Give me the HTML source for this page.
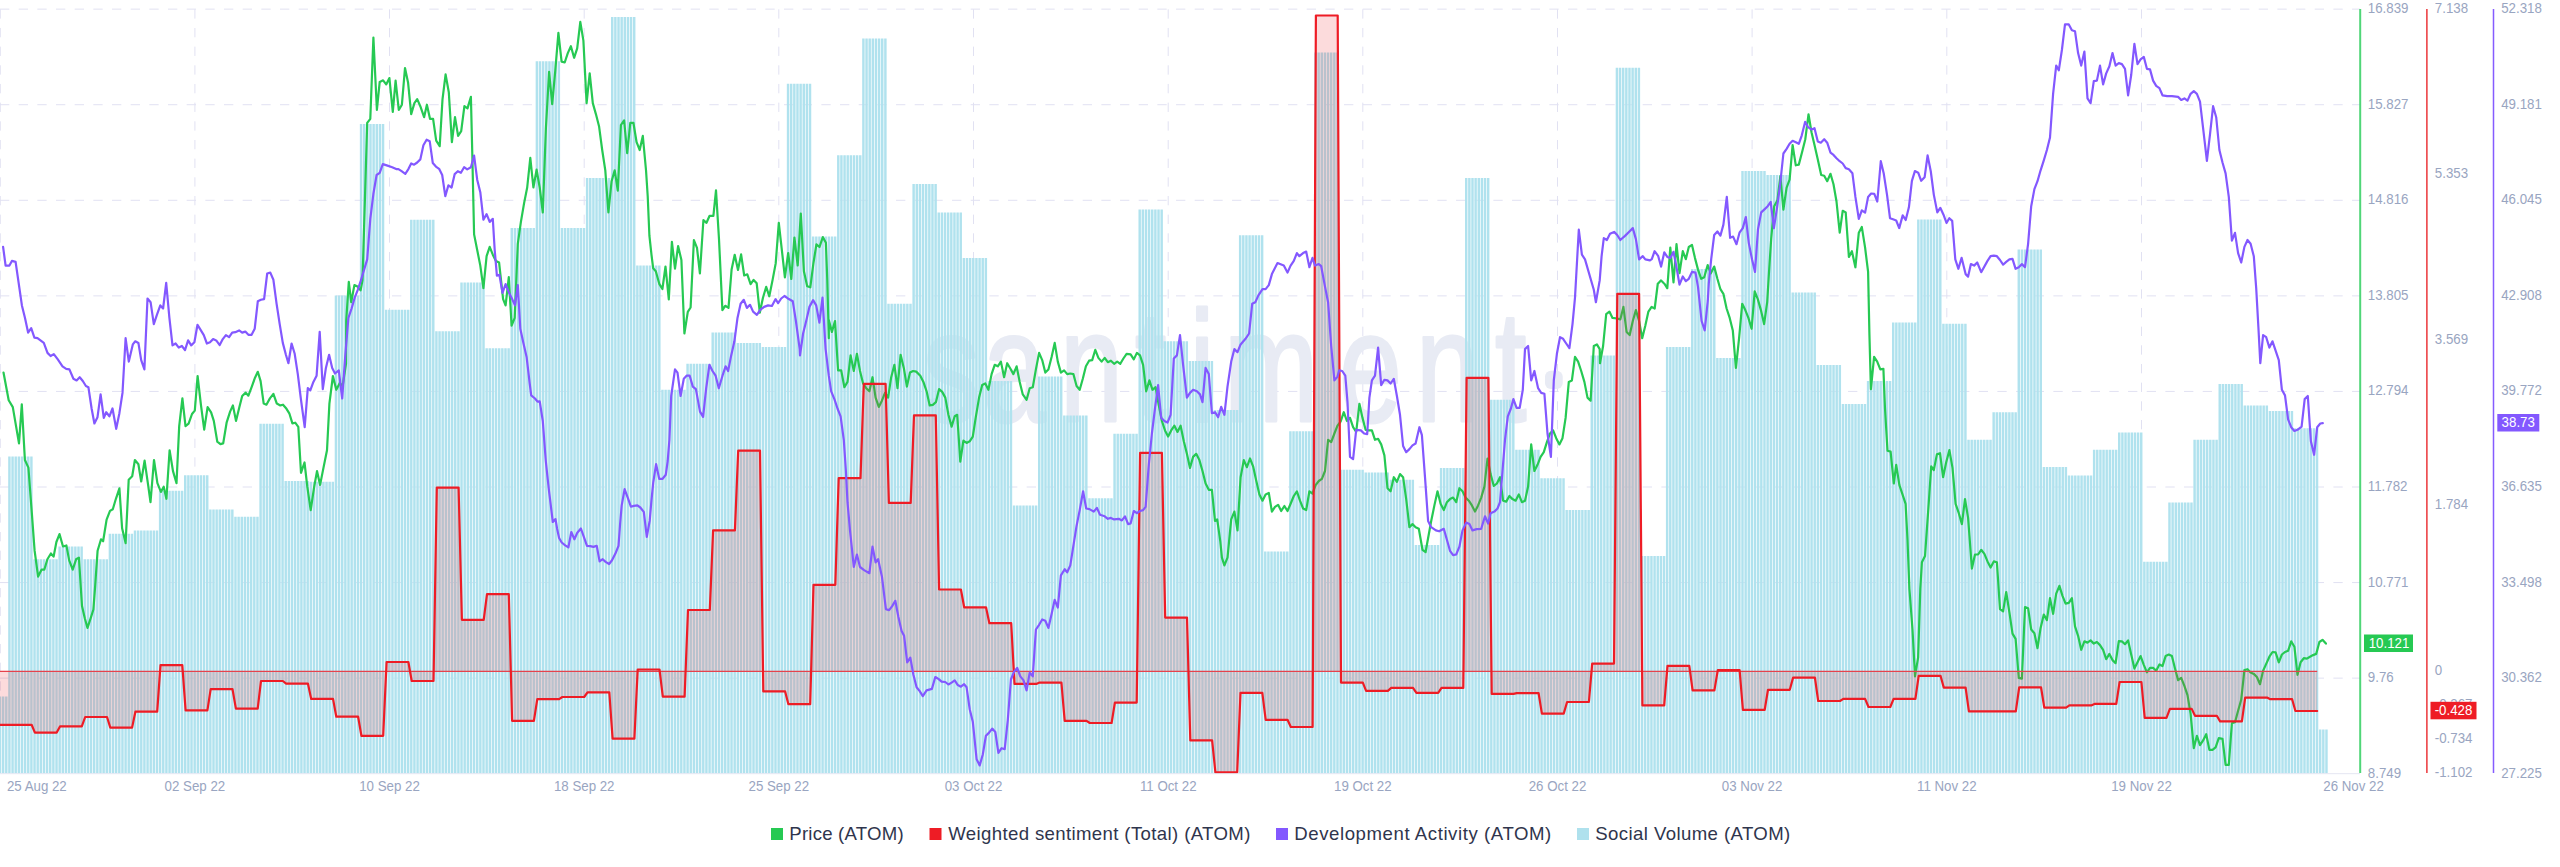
<!DOCTYPE html><html><head><meta charset="utf-8"><title>chart</title><style>html,body{margin:0;padding:0;background:#fff}body{width:2560px;height:867px;position:relative;overflow:hidden}</style></head><body><svg width="2560" height="867" viewBox="0 0 2560 867" style="position:absolute;left:0;top:0">
<defs><clipPath id="cp"><rect x="0" y="9" width="2360" height="764.2"/></clipPath></defs>
<g stroke="#e1e1f2" stroke-width="1" stroke-dasharray="9.3335 9.3335" fill="none"><line x1="0" x2="2360" y1="9.15" y2="9.15"/><line x1="0" x2="2360" y1="104.72" y2="104.72"/><line x1="0" x2="2360" y1="200.29" y2="200.29"/><line x1="0" x2="2360" y1="295.86" y2="295.86"/><line x1="0" x2="2360" y1="391.43" y2="391.43"/><line x1="0" x2="2360" y1="487.00" y2="487.00"/><line x1="0" x2="2360" y1="582.57" y2="582.57"/><line x1="0" x2="2360" y1="678.14" y2="678.14"/><line x1="0.3" x2="0.3" y1="9.3" y2="773"/><line x1="194.9" x2="194.9" y1="9.3" y2="773"/><line x1="389.5" x2="389.5" y1="9.3" y2="773"/><line x1="584.2" x2="584.2" y1="9.3" y2="773"/><line x1="778.8" x2="778.8" y1="9.3" y2="773"/><line x1="973.5" x2="973.5" y1="9.3" y2="773"/><line x1="1168.2" x2="1168.2" y1="9.3" y2="773"/><line x1="1362.8" x2="1362.8" y1="9.3" y2="773"/><line x1="1557.5" x2="1557.5" y1="9.3" y2="773"/><line x1="1752.1" x2="1752.1" y1="9.3" y2="773"/><line x1="1946.8" x2="1946.8" y1="9.3" y2="773"/><line x1="2141.5" x2="2141.5" y1="9.3" y2="773"/></g>
<g font-family="Liberation Sans, sans-serif" fill="#e8ebf4" stroke="#e8ebf4" stroke-linejoin="round"><text transform="scale(0.72,1)" x="1281.9 1365.3 1472.2 1576.4 1652.1 1700.0 1859.7 1966.7 2076.4" y="421.5" font-size="157" stroke-width="3">santiment</text><text x="1545.6" y="383.3" font-size="60" stroke-width="12">.</text></g>
<path d="M8.20 773.2H10.65V456.6H8.20ZM11.34 773.2H13.79V456.6H11.34ZM14.48 773.2H16.93V456.6H14.48ZM17.62 773.2H20.07V456.6H17.62ZM20.76 773.2H23.21V456.6H20.76ZM23.90 773.2H26.35V456.6H23.90ZM27.04 773.2H29.49V456.6H27.04ZM30.18 773.2H32.63V456.6H30.18ZM33.32 773.2H35.77V559.3H33.32ZM36.46 773.2H38.91V559.3H36.46ZM39.60 773.2H42.05V559.3H39.60ZM42.74 773.2H45.19V559.3H42.74ZM45.88 773.2H48.33V559.3H45.88ZM49.02 773.2H51.47V559.3H49.02ZM52.15 773.2H54.60V559.3H52.15ZM55.29 773.2H57.74V559.3H55.29ZM58.43 773.2H60.88V546.5H58.43ZM61.57 773.2H64.02V546.5H61.57ZM64.71 773.2H67.16V546.5H64.71ZM67.85 773.2H70.30V546.5H67.85ZM70.99 773.2H73.44V546.5H70.99ZM74.13 773.2H76.58V546.5H74.13ZM77.27 773.2H79.72V546.5H77.27ZM80.41 773.2H82.86V546.5H80.41ZM83.55 773.2H86.00V559.3H83.55ZM86.69 773.2H89.14V559.3H86.69ZM89.83 773.2H92.28V559.3H89.83ZM92.97 773.2H95.42V559.3H92.97ZM96.11 773.2H98.56V559.3H96.11ZM99.25 773.2H101.70V559.3H99.25ZM102.39 773.2H104.84V559.3H102.39ZM105.53 773.2H107.98V559.3H105.53ZM108.67 773.2H111.12V533.7H108.67ZM111.81 773.2H114.26V533.7H111.81ZM114.95 773.2H117.40V533.7H114.95ZM118.09 773.2H120.54V533.7H118.09ZM121.23 773.2H123.68V533.7H121.23ZM124.37 773.2H126.82V533.7H124.37ZM127.51 773.2H129.96V533.7H127.51ZM130.65 773.2H133.10V533.7H130.65ZM133.78 773.2H136.23V530.6H133.78ZM136.92 773.2H139.37V530.6H136.92ZM140.06 773.2H142.51V530.6H140.06ZM143.20 773.2H145.65V530.6H143.20ZM146.34 773.2H148.79V530.6H146.34ZM149.48 773.2H151.93V530.6H149.48ZM152.62 773.2H155.07V530.6H152.62ZM155.76 773.2H158.21V530.6H155.76ZM158.90 773.2H161.35V490.8H158.90ZM162.04 773.2H164.49V490.8H162.04ZM165.18 773.2H167.63V490.8H165.18ZM168.32 773.2H170.77V490.8H168.32ZM171.46 773.2H173.91V490.8H171.46ZM174.60 773.2H177.05V490.8H174.60ZM177.74 773.2H180.19V490.8H177.74ZM180.88 773.2H183.33V490.8H180.88ZM184.02 773.2H186.47V475.3H184.02ZM187.16 773.2H189.61V475.3H187.16ZM190.30 773.2H192.75V475.3H190.30ZM193.44 773.2H195.89V475.3H193.44ZM196.58 773.2H199.03V475.3H196.58ZM199.72 773.2H202.17V475.3H199.72ZM202.86 773.2H205.31V475.3H202.86ZM206.00 773.2H208.45V475.3H206.00ZM209.14 773.2H211.59V509.5H209.14ZM212.28 773.2H214.73V509.5H212.28ZM215.42 773.2H217.87V509.5H215.42ZM218.55 773.2H221.00V509.5H218.55ZM221.69 773.2H224.14V509.5H221.69ZM224.83 773.2H227.28V509.5H224.83ZM227.97 773.2H230.42V509.5H227.97ZM231.11 773.2H233.56V509.5H231.11ZM234.25 773.2H236.70V516.8H234.25ZM237.39 773.2H239.84V516.8H237.39ZM240.53 773.2H242.98V516.8H240.53ZM243.67 773.2H246.12V516.8H243.67ZM246.81 773.2H249.26V516.8H246.81ZM249.95 773.2H252.40V516.8H249.95ZM253.09 773.2H255.54V516.8H253.09ZM256.23 773.2H258.68V516.8H256.23ZM259.37 773.2H261.82V423.7H259.37ZM262.51 773.2H264.96V423.7H262.51ZM265.65 773.2H268.10V423.7H265.65ZM268.79 773.2H271.24V423.7H268.79ZM271.93 773.2H274.38V423.7H271.93ZM275.07 773.2H277.52V423.7H275.07ZM278.21 773.2H280.66V423.7H278.21ZM281.35 773.2H283.80V423.7H281.35ZM284.49 773.2H286.94V481.1H284.49ZM287.63 773.2H290.08V481.1H287.63ZM290.77 773.2H293.22V481.1H290.77ZM293.91 773.2H296.36V481.1H293.91ZM297.05 773.2H299.50V481.1H297.05ZM300.19 773.2H302.64V481.1H300.19ZM303.32 773.2H305.77V481.1H303.32ZM306.46 773.2H308.91V481.1H306.46ZM309.60 773.2H312.05V481.8H309.60ZM312.74 773.2H315.19V481.8H312.74ZM315.88 773.2H318.33V481.8H315.88ZM319.02 773.2H321.47V481.8H319.02ZM322.16 773.2H324.61V481.8H322.16ZM325.30 773.2H327.75V481.8H325.30ZM328.44 773.2H330.89V481.8H328.44ZM331.58 773.2H334.03V481.8H331.58ZM334.72 773.2H337.17V295.4H334.72ZM337.86 773.2H340.31V295.4H337.86ZM341.00 773.2H343.45V295.4H341.00ZM344.14 773.2H346.59V295.4H344.14ZM347.28 773.2H349.73V295.4H347.28ZM350.42 773.2H352.87V295.4H350.42ZM353.56 773.2H356.01V295.4H353.56ZM356.70 773.2H359.15V295.4H356.70ZM359.84 773.2H362.29V124.0H359.84ZM362.98 773.2H365.43V124.0H362.98ZM366.12 773.2H368.57V124.0H366.12ZM369.26 773.2H371.71V124.0H369.26ZM372.40 773.2H374.85V124.0H372.40ZM375.54 773.2H377.99V124.0H375.54ZM378.68 773.2H381.13V124.0H378.68ZM381.82 773.2H384.27V124.0H381.82ZM384.95 773.2H387.40V309.8H384.95ZM388.09 773.2H390.54V309.8H388.09ZM391.23 773.2H393.68V309.8H391.23ZM394.37 773.2H396.82V309.8H394.37ZM397.51 773.2H399.96V309.8H397.51ZM400.65 773.2H403.10V309.8H400.65ZM403.79 773.2H406.24V309.8H403.79ZM406.93 773.2H409.38V309.8H406.93ZM410.07 773.2H412.52V219.7H410.07ZM413.21 773.2H415.66V219.7H413.21ZM416.35 773.2H418.80V219.7H416.35ZM419.49 773.2H421.94V219.7H419.49ZM422.63 773.2H425.08V219.7H422.63ZM425.77 773.2H428.22V219.7H425.77ZM428.91 773.2H431.36V219.7H428.91ZM432.05 773.2H434.50V219.7H432.05ZM435.19 773.2H437.64V331.3H435.19ZM438.33 773.2H440.78V331.3H438.33ZM441.47 773.2H443.92V331.3H441.47ZM444.61 773.2H447.06V331.3H444.61ZM447.75 773.2H450.20V331.3H447.75ZM450.89 773.2H453.34V331.3H450.89ZM454.03 773.2H456.48V331.3H454.03ZM457.17 773.2H459.62V331.3H457.17ZM460.31 773.2H462.76V282.6H460.31ZM463.45 773.2H465.90V282.6H463.45ZM466.59 773.2H469.04V282.6H466.59ZM469.72 773.2H472.17V282.6H469.72ZM472.86 773.2H475.31V282.6H472.86ZM476.00 773.2H478.45V282.6H476.00ZM479.14 773.2H481.59V282.6H479.14ZM482.28 773.2H484.73V282.6H482.28ZM485.42 773.2H487.87V348.2H485.42ZM488.56 773.2H491.01V348.2H488.56ZM491.70 773.2H494.15V348.2H491.70ZM494.84 773.2H497.29V348.2H494.84ZM497.98 773.2H500.43V348.2H497.98ZM501.12 773.2H503.57V348.2H501.12ZM504.26 773.2H506.71V348.2H504.26ZM507.40 773.2H509.85V348.2H507.40ZM510.54 773.2H512.99V228.0H510.54ZM513.68 773.2H516.13V228.0H513.68ZM516.82 773.2H519.27V228.0H516.82ZM519.96 773.2H522.41V228.0H519.96ZM523.10 773.2H525.55V228.0H523.10ZM526.24 773.2H528.69V228.0H526.24ZM529.38 773.2H531.83V228.0H529.38ZM532.52 773.2H534.97V228.0H532.52ZM535.66 773.2H538.11V61.3H535.66ZM538.80 773.2H541.25V61.3H538.80ZM541.94 773.2H544.39V61.3H541.94ZM545.08 773.2H547.53V61.3H545.08ZM548.22 773.2H550.67V61.3H548.22ZM551.36 773.2H553.81V61.3H551.36ZM554.49 773.2H556.94V61.3H554.49ZM557.63 773.2H560.08V61.3H557.63ZM560.77 773.2H563.22V228.0H560.77ZM563.91 773.2H566.36V228.0H563.91ZM567.05 773.2H569.50V228.0H567.05ZM570.19 773.2H572.64V228.0H570.19ZM573.33 773.2H575.78V228.0H573.33ZM576.47 773.2H578.92V228.0H576.47ZM579.61 773.2H582.06V228.0H579.61ZM582.75 773.2H585.20V228.0H582.75ZM585.89 773.2H588.34V178.0H585.89ZM589.03 773.2H591.48V178.0H589.03ZM592.17 773.2H594.62V178.0H592.17ZM595.31 773.2H597.76V178.0H595.31ZM598.45 773.2H600.90V178.0H598.45ZM601.59 773.2H604.04V178.0H601.59ZM604.73 773.2H607.18V178.0H604.73ZM607.87 773.2H610.32V178.0H607.87ZM611.01 773.2H613.46V17.0H611.01ZM614.15 773.2H616.60V17.0H614.15ZM617.29 773.2H619.74V17.0H617.29ZM620.43 773.2H622.88V17.0H620.43ZM623.57 773.2H626.02V17.0H623.57ZM626.71 773.2H629.16V17.0H626.71ZM629.85 773.2H632.30V17.0H629.85ZM632.99 773.2H635.44V17.0H632.99ZM636.13 773.2H638.58V265.6H636.13ZM639.26 773.2H641.71V265.6H639.26ZM642.40 773.2H644.85V265.6H642.40ZM645.54 773.2H647.99V265.6H645.54ZM648.68 773.2H651.13V265.6H648.68ZM651.82 773.2H654.27V265.6H651.82ZM654.96 773.2H657.41V265.6H654.96ZM658.10 773.2H660.55V265.6H658.10ZM661.24 773.2H663.69V389.8H661.24ZM664.38 773.2H666.83V389.8H664.38ZM667.52 773.2H669.97V389.8H667.52ZM670.66 773.2H673.11V389.8H670.66ZM673.80 773.2H676.25V389.8H673.80ZM676.94 773.2H679.39V389.8H676.94ZM680.08 773.2H682.53V389.8H680.08ZM683.22 773.2H685.67V389.8H683.22ZM686.36 773.2H688.81V363.8H686.36ZM689.50 773.2H691.95V363.8H689.50ZM692.64 773.2H695.09V363.8H692.64ZM695.78 773.2H698.23V363.8H695.78ZM698.92 773.2H701.37V363.8H698.92ZM702.06 773.2H704.51V363.8H702.06ZM705.20 773.2H707.65V363.8H705.20ZM708.34 773.2H710.79V363.8H708.34ZM711.48 773.2H713.93V332.6H711.48ZM714.62 773.2H717.07V332.6H714.62ZM717.76 773.2H720.21V332.6H717.76ZM720.89 773.2H723.34V332.6H720.89ZM724.03 773.2H726.48V332.6H724.03ZM727.17 773.2H729.62V332.6H727.17ZM730.31 773.2H732.76V332.6H730.31ZM733.45 773.2H735.90V332.6H733.45ZM736.59 773.2H739.04V342.9H736.59ZM739.73 773.2H742.18V342.9H739.73ZM742.87 773.2H745.32V342.9H742.87ZM746.01 773.2H748.46V342.9H746.01ZM749.15 773.2H751.60V342.9H749.15ZM752.29 773.2H754.74V342.9H752.29ZM755.43 773.2H757.88V342.9H755.43ZM758.57 773.2H761.02V342.9H758.57ZM761.71 773.2H764.16V347.0H761.71ZM764.85 773.2H767.30V347.0H764.85ZM767.99 773.2H770.44V347.0H767.99ZM771.13 773.2H773.58V347.0H771.13ZM774.27 773.2H776.72V347.0H774.27ZM777.41 773.2H779.86V347.0H777.41ZM780.55 773.2H783.00V347.0H780.55ZM783.69 773.2H786.14V347.0H783.69ZM786.83 773.2H789.28V83.8H786.83ZM789.97 773.2H792.42V83.8H789.97ZM793.11 773.2H795.56V83.8H793.11ZM796.25 773.2H798.70V83.8H796.25ZM799.39 773.2H801.84V83.8H799.39ZM802.53 773.2H804.98V83.8H802.53ZM805.66 773.2H808.11V83.8H805.66ZM808.80 773.2H811.25V83.8H808.80ZM811.94 773.2H814.39V236.6H811.94ZM815.08 773.2H817.53V236.6H815.08ZM818.22 773.2H820.67V236.6H818.22ZM821.36 773.2H823.81V236.6H821.36ZM824.50 773.2H826.95V236.6H824.50ZM827.64 773.2H830.09V236.6H827.64ZM830.78 773.2H833.23V236.6H830.78ZM833.92 773.2H836.37V236.6H833.92ZM837.06 773.2H839.51V155.3H837.06ZM840.20 773.2H842.65V155.3H840.20ZM843.34 773.2H845.79V155.3H843.34ZM846.48 773.2H848.93V155.3H846.48ZM849.62 773.2H852.07V155.3H849.62ZM852.76 773.2H855.21V155.3H852.76ZM855.90 773.2H858.35V155.3H855.90ZM859.04 773.2H861.49V155.3H859.04ZM862.18 773.2H864.63V38.4H862.18ZM865.32 773.2H867.77V38.4H865.32ZM868.46 773.2H870.91V38.4H868.46ZM871.60 773.2H874.05V38.4H871.60ZM874.74 773.2H877.19V38.4H874.74ZM877.88 773.2H880.33V38.4H877.88ZM881.02 773.2H883.47V38.4H881.02ZM884.16 773.2H886.61V38.4H884.16ZM887.30 773.2H889.75V303.8H887.30ZM890.43 773.2H892.88V303.8H890.43ZM893.57 773.2H896.02V303.8H893.57ZM896.71 773.2H899.16V303.8H896.71ZM899.85 773.2H902.30V303.8H899.85ZM902.99 773.2H905.44V303.8H902.99ZM906.13 773.2H908.58V303.8H906.13ZM909.27 773.2H911.72V303.8H909.27ZM912.41 773.2H914.86V184.0H912.41ZM915.55 773.2H918.00V184.0H915.55ZM918.69 773.2H921.14V184.0H918.69ZM921.83 773.2H924.28V184.0H921.83ZM924.97 773.2H927.42V184.0H924.97ZM928.11 773.2H930.56V184.0H928.11ZM931.25 773.2H933.70V184.0H931.25ZM934.39 773.2H936.84V184.0H934.39ZM937.53 773.2H939.98V212.5H937.53ZM940.67 773.2H943.12V212.5H940.67ZM943.81 773.2H946.26V212.5H943.81ZM946.95 773.2H949.40V212.5H946.95ZM950.09 773.2H952.54V212.5H950.09ZM953.23 773.2H955.68V212.5H953.23ZM956.37 773.2H958.82V212.5H956.37ZM959.51 773.2H961.96V212.5H959.51ZM962.65 773.2H965.10V258.0H962.65ZM965.79 773.2H968.24V258.0H965.79ZM968.93 773.2H971.38V258.0H968.93ZM972.06 773.2H974.51V258.0H972.06ZM975.20 773.2H977.65V258.0H975.20ZM978.34 773.2H980.79V258.0H978.34ZM981.48 773.2H983.93V258.0H981.48ZM984.62 773.2H987.07V258.0H984.62ZM987.76 773.2H990.21V381.0H987.76ZM990.90 773.2H993.35V381.0H990.90ZM994.04 773.2H996.49V381.0H994.04ZM997.18 773.2H999.63V381.0H997.18ZM1000.32 773.2H1002.77V381.0H1000.32ZM1003.46 773.2H1005.91V381.0H1003.46ZM1006.60 773.2H1009.05V381.0H1006.60ZM1009.74 773.2H1012.19V381.0H1009.74ZM1012.88 773.2H1015.33V505.4H1012.88ZM1016.02 773.2H1018.47V505.4H1016.02ZM1019.16 773.2H1021.61V505.4H1019.16ZM1022.30 773.2H1024.75V505.4H1022.30ZM1025.44 773.2H1027.89V505.4H1025.44ZM1028.58 773.2H1031.03V505.4H1028.58ZM1031.72 773.2H1034.17V505.4H1031.72ZM1034.86 773.2H1037.31V505.4H1034.86ZM1038.00 773.2H1040.45V376.6H1038.00ZM1041.14 773.2H1043.59V376.6H1041.14ZM1044.28 773.2H1046.73V376.6H1044.28ZM1047.42 773.2H1049.87V376.6H1047.42ZM1050.56 773.2H1053.01V376.6H1050.56ZM1053.70 773.2H1056.15V376.6H1053.70ZM1056.83 773.2H1059.28V376.6H1056.83ZM1059.97 773.2H1062.42V376.6H1059.97ZM1063.11 773.2H1065.56V415.4H1063.11ZM1066.25 773.2H1068.70V415.4H1066.25ZM1069.39 773.2H1071.84V415.4H1069.39ZM1072.53 773.2H1074.98V415.4H1072.53ZM1075.67 773.2H1078.12V415.4H1075.67ZM1078.81 773.2H1081.26V415.4H1078.81ZM1081.95 773.2H1084.40V415.4H1081.95ZM1085.09 773.2H1087.54V415.4H1085.09ZM1088.23 773.2H1090.68V498.2H1088.23ZM1091.37 773.2H1093.82V498.2H1091.37ZM1094.51 773.2H1096.96V498.2H1094.51ZM1097.65 773.2H1100.10V498.2H1097.65ZM1100.79 773.2H1103.24V498.2H1100.79ZM1103.93 773.2H1106.38V498.2H1103.93ZM1107.07 773.2H1109.52V498.2H1107.07ZM1110.21 773.2H1112.66V498.2H1110.21ZM1113.35 773.2H1115.80V433.8H1113.35ZM1116.49 773.2H1118.94V433.8H1116.49ZM1119.63 773.2H1122.08V433.8H1119.63ZM1122.77 773.2H1125.22V433.8H1122.77ZM1125.91 773.2H1128.36V433.8H1125.91ZM1129.05 773.2H1131.50V433.8H1129.05ZM1132.19 773.2H1134.64V433.8H1132.19ZM1135.33 773.2H1137.78V433.8H1135.33ZM1138.47 773.2H1140.92V209.5H1138.47ZM1141.60 773.2H1144.05V209.5H1141.60ZM1144.74 773.2H1147.19V209.5H1144.74ZM1147.88 773.2H1150.33V209.5H1147.88ZM1151.02 773.2H1153.47V209.5H1151.02ZM1154.16 773.2H1156.61V209.5H1154.16ZM1157.30 773.2H1159.75V209.5H1157.30ZM1160.44 773.2H1162.89V209.5H1160.44ZM1163.58 773.2H1166.03V341.3H1163.58ZM1166.72 773.2H1169.17V341.3H1166.72ZM1169.86 773.2H1172.31V341.3H1169.86ZM1173.00 773.2H1175.45V341.3H1173.00ZM1176.14 773.2H1178.59V341.3H1176.14ZM1179.28 773.2H1181.73V341.3H1179.28ZM1182.42 773.2H1184.87V341.3H1182.42ZM1185.56 773.2H1188.01V341.3H1185.56ZM1188.70 773.2H1191.15V361.0H1188.70ZM1191.84 773.2H1194.29V361.0H1191.84ZM1194.98 773.2H1197.43V361.0H1194.98ZM1198.12 773.2H1200.57V361.0H1198.12ZM1201.26 773.2H1203.71V361.0H1201.26ZM1204.40 773.2H1206.85V361.0H1204.40ZM1207.54 773.2H1209.99V361.0H1207.54ZM1210.68 773.2H1213.13V361.0H1210.68ZM1213.82 773.2H1216.27V410.0H1213.82ZM1216.96 773.2H1219.41V410.0H1216.96ZM1220.10 773.2H1222.55V410.0H1220.10ZM1223.23 773.2H1225.68V410.0H1223.23ZM1226.37 773.2H1228.82V410.0H1226.37ZM1229.51 773.2H1231.96V410.0H1229.51ZM1232.65 773.2H1235.10V410.0H1232.65ZM1235.79 773.2H1238.24V410.0H1235.79ZM1238.93 773.2H1241.38V235.3H1238.93ZM1242.07 773.2H1244.52V235.3H1242.07ZM1245.21 773.2H1247.66V235.3H1245.21ZM1248.35 773.2H1250.80V235.3H1248.35ZM1251.49 773.2H1253.94V235.3H1251.49ZM1254.63 773.2H1257.08V235.3H1254.63ZM1257.77 773.2H1260.22V235.3H1257.77ZM1260.91 773.2H1263.36V235.3H1260.91ZM1264.05 773.2H1266.50V551.6H1264.05ZM1267.19 773.2H1269.64V551.6H1267.19ZM1270.33 773.2H1272.78V551.6H1270.33ZM1273.47 773.2H1275.92V551.6H1273.47ZM1276.61 773.2H1279.06V551.6H1276.61ZM1279.75 773.2H1282.20V551.6H1279.75ZM1282.89 773.2H1285.34V551.6H1282.89ZM1286.03 773.2H1288.48V551.6H1286.03ZM1289.17 773.2H1291.62V431.3H1289.17ZM1292.31 773.2H1294.76V431.3H1292.31ZM1295.45 773.2H1297.90V431.3H1295.45ZM1298.59 773.2H1301.04V431.3H1298.59ZM1301.73 773.2H1304.18V431.3H1301.73ZM1304.87 773.2H1307.32V431.3H1304.87ZM1308.00 773.2H1310.45V431.3H1308.00ZM1311.14 773.2H1313.59V431.3H1311.14ZM1314.28 773.2H1316.73V52.5H1314.28ZM1317.42 773.2H1319.87V52.5H1317.42ZM1320.56 773.2H1323.01V52.5H1320.56ZM1323.70 773.2H1326.15V52.5H1323.70ZM1326.84 773.2H1329.29V52.5H1326.84ZM1329.98 773.2H1332.43V52.5H1329.98ZM1333.12 773.2H1335.57V52.5H1333.12ZM1336.26 773.2H1338.71V52.5H1336.26ZM1339.40 773.2H1341.85V469.7H1339.40ZM1342.54 773.2H1344.99V469.7H1342.54ZM1345.68 773.2H1348.13V469.7H1345.68ZM1348.82 773.2H1351.27V469.7H1348.82ZM1351.96 773.2H1354.41V469.7H1351.96ZM1355.10 773.2H1357.55V469.7H1355.10ZM1358.24 773.2H1360.69V469.7H1358.24ZM1361.38 773.2H1363.83V469.7H1361.38ZM1364.52 773.2H1366.97V472.4H1364.52ZM1367.66 773.2H1370.11V472.4H1367.66ZM1370.80 773.2H1373.25V472.4H1370.80ZM1373.94 773.2H1376.39V472.4H1373.94ZM1377.08 773.2H1379.53V472.4H1377.08ZM1380.22 773.2H1382.67V472.4H1380.22ZM1383.36 773.2H1385.81V472.4H1383.36ZM1386.50 773.2H1388.95V472.4H1386.50ZM1389.63 773.2H1392.09V479.8H1389.63ZM1392.77 773.2H1395.22V479.8H1392.77ZM1395.91 773.2H1398.36V479.8H1395.91ZM1399.05 773.2H1401.50V479.8H1399.05ZM1402.19 773.2H1404.64V479.8H1402.19ZM1405.33 773.2H1407.78V479.8H1405.33ZM1408.47 773.2H1410.92V479.8H1408.47ZM1411.61 773.2H1414.06V479.8H1411.61ZM1414.75 773.2H1417.20V545.0H1414.75ZM1417.89 773.2H1420.34V545.0H1417.89ZM1421.03 773.2H1423.48V545.0H1421.03ZM1424.17 773.2H1426.62V545.0H1424.17ZM1427.31 773.2H1429.76V545.0H1427.31ZM1430.45 773.2H1432.90V545.0H1430.45ZM1433.59 773.2H1436.04V545.0H1433.59ZM1436.73 773.2H1439.18V545.0H1436.73ZM1439.87 773.2H1442.32V468.0H1439.87ZM1443.01 773.2H1445.46V468.0H1443.01ZM1446.15 773.2H1448.60V468.0H1446.15ZM1449.29 773.2H1451.74V468.0H1449.29ZM1452.43 773.2H1454.88V468.0H1452.43ZM1455.57 773.2H1458.02V468.0H1455.57ZM1458.71 773.2H1461.16V468.0H1458.71ZM1461.85 773.2H1464.30V468.0H1461.85ZM1464.99 773.2H1467.44V178.0H1464.99ZM1468.13 773.2H1470.58V178.0H1468.13ZM1471.27 773.2H1473.72V178.0H1471.27ZM1474.40 773.2H1476.85V178.0H1474.40ZM1477.54 773.2H1479.99V178.0H1477.54ZM1480.68 773.2H1483.13V178.0H1480.68ZM1483.82 773.2H1486.27V178.0H1483.82ZM1486.96 773.2H1489.41V178.0H1486.96ZM1490.10 773.2H1492.55V399.8H1490.10ZM1493.24 773.2H1495.69V399.8H1493.24ZM1496.38 773.2H1498.83V399.8H1496.38ZM1499.52 773.2H1501.97V399.8H1499.52ZM1502.66 773.2H1505.11V399.8H1502.66ZM1505.80 773.2H1508.25V399.8H1505.80ZM1508.94 773.2H1511.39V399.8H1508.94ZM1512.08 773.2H1514.53V399.8H1512.08ZM1515.22 773.2H1517.67V449.8H1515.22ZM1518.36 773.2H1520.81V449.8H1518.36ZM1521.50 773.2H1523.95V449.8H1521.50ZM1524.64 773.2H1527.09V449.8H1524.64ZM1527.78 773.2H1530.23V449.8H1527.78ZM1530.92 773.2H1533.37V449.8H1530.92ZM1534.06 773.2H1536.51V449.8H1534.06ZM1537.20 773.2H1539.65V449.8H1537.20ZM1540.34 773.2H1542.79V478.2H1540.34ZM1543.48 773.2H1545.93V478.2H1543.48ZM1546.62 773.2H1549.07V478.2H1546.62ZM1549.76 773.2H1552.21V478.2H1549.76ZM1552.90 773.2H1555.35V478.2H1552.90ZM1556.04 773.2H1558.49V478.2H1556.04ZM1559.17 773.2H1561.62V478.2H1559.17ZM1562.31 773.2H1564.76V478.2H1562.31ZM1565.45 773.2H1567.90V510.0H1565.45ZM1568.59 773.2H1571.04V510.0H1568.59ZM1571.73 773.2H1574.18V510.0H1571.73ZM1574.87 773.2H1577.32V510.0H1574.87ZM1578.01 773.2H1580.46V510.0H1578.01ZM1581.15 773.2H1583.60V510.0H1581.15ZM1584.29 773.2H1586.74V510.0H1584.29ZM1587.43 773.2H1589.88V510.0H1587.43ZM1590.57 773.2H1593.02V355.4H1590.57ZM1593.71 773.2H1596.16V355.4H1593.71ZM1596.85 773.2H1599.30V355.4H1596.85ZM1599.99 773.2H1602.44V355.4H1599.99ZM1603.13 773.2H1605.58V355.4H1603.13ZM1606.27 773.2H1608.72V355.4H1606.27ZM1609.41 773.2H1611.86V355.4H1609.41ZM1612.55 773.2H1615.00V355.4H1612.55ZM1615.69 773.2H1618.14V67.8H1615.69ZM1618.83 773.2H1621.28V67.8H1618.83ZM1621.97 773.2H1624.42V67.8H1621.97ZM1625.11 773.2H1627.56V67.8H1625.11ZM1628.25 773.2H1630.70V67.8H1628.25ZM1631.39 773.2H1633.84V67.8H1631.39ZM1634.53 773.2H1636.98V67.8H1634.53ZM1637.67 773.2H1640.12V67.8H1637.67ZM1640.81 773.2H1643.26V556.0H1640.81ZM1643.94 773.2H1646.39V556.0H1643.94ZM1647.08 773.2H1649.53V556.0H1647.08ZM1650.22 773.2H1652.67V556.0H1650.22ZM1653.36 773.2H1655.81V556.0H1653.36ZM1656.50 773.2H1658.95V556.0H1656.50ZM1659.64 773.2H1662.09V556.0H1659.64ZM1662.78 773.2H1665.23V556.0H1662.78ZM1665.92 773.2H1668.37V347.0H1665.92ZM1669.06 773.2H1671.51V347.0H1669.06ZM1672.20 773.2H1674.65V347.0H1672.20ZM1675.34 773.2H1677.79V347.0H1675.34ZM1678.48 773.2H1680.93V347.0H1678.48ZM1681.62 773.2H1684.07V347.0H1681.62ZM1684.76 773.2H1687.21V347.0H1684.76ZM1687.90 773.2H1690.35V347.0H1687.90ZM1691.04 773.2H1693.49V269.0H1691.04ZM1694.18 773.2H1696.63V269.0H1694.18ZM1697.32 773.2H1699.77V269.0H1697.32ZM1700.46 773.2H1702.91V269.0H1700.46ZM1703.60 773.2H1706.05V269.0H1703.60ZM1706.74 773.2H1709.19V269.0H1706.74ZM1709.88 773.2H1712.33V269.0H1709.88ZM1713.02 773.2H1715.47V269.0H1713.02ZM1716.16 773.2H1718.61V357.9H1716.16ZM1719.30 773.2H1721.75V357.9H1719.30ZM1722.44 773.2H1724.89V357.9H1722.44ZM1725.57 773.2H1728.02V357.9H1725.57ZM1728.71 773.2H1731.16V357.9H1728.71ZM1731.85 773.2H1734.30V357.9H1731.85ZM1734.99 773.2H1737.44V357.9H1734.99ZM1738.13 773.2H1740.58V357.9H1738.13ZM1741.27 773.2H1743.72V171.0H1741.27ZM1744.41 773.2H1746.86V171.0H1744.41ZM1747.55 773.2H1750.00V171.0H1747.55ZM1750.69 773.2H1753.14V171.0H1750.69ZM1753.83 773.2H1756.28V171.0H1753.83ZM1756.97 773.2H1759.42V171.0H1756.97ZM1760.11 773.2H1762.56V171.0H1760.11ZM1763.25 773.2H1765.70V171.0H1763.25ZM1766.39 773.2H1768.84V175.0H1766.39ZM1769.53 773.2H1771.98V175.0H1769.53ZM1772.67 773.2H1775.12V175.0H1772.67ZM1775.81 773.2H1778.26V175.0H1775.81ZM1778.95 773.2H1781.40V175.0H1778.95ZM1782.09 773.2H1784.54V175.0H1782.09ZM1785.23 773.2H1787.68V175.0H1785.23ZM1788.37 773.2H1790.82V175.0H1788.37ZM1791.51 773.2H1793.96V292.6H1791.51ZM1794.65 773.2H1797.10V292.6H1794.65ZM1797.79 773.2H1800.24V292.6H1797.79ZM1800.93 773.2H1803.38V292.6H1800.93ZM1804.07 773.2H1806.52V292.6H1804.07ZM1807.21 773.2H1809.66V292.6H1807.21ZM1810.34 773.2H1812.79V292.6H1810.34ZM1813.48 773.2H1815.93V292.6H1813.48ZM1816.62 773.2H1819.07V365.0H1816.62ZM1819.76 773.2H1822.21V365.0H1819.76ZM1822.90 773.2H1825.35V365.0H1822.90ZM1826.04 773.2H1828.49V365.0H1826.04ZM1829.18 773.2H1831.63V365.0H1829.18ZM1832.32 773.2H1834.77V365.0H1832.32ZM1835.46 773.2H1837.91V365.0H1835.46ZM1838.60 773.2H1841.05V365.0H1838.60ZM1841.74 773.2H1844.19V404.0H1841.74ZM1844.88 773.2H1847.33V404.0H1844.88ZM1848.02 773.2H1850.47V404.0H1848.02ZM1851.16 773.2H1853.61V404.0H1851.16ZM1854.30 773.2H1856.75V404.0H1854.30ZM1857.44 773.2H1859.89V404.0H1857.44ZM1860.58 773.2H1863.03V404.0H1860.58ZM1863.72 773.2H1866.17V404.0H1863.72ZM1866.86 773.2H1869.31V381.0H1866.86ZM1870.00 773.2H1872.45V381.0H1870.00ZM1873.14 773.2H1875.59V381.0H1873.14ZM1876.28 773.2H1878.73V381.0H1876.28ZM1879.42 773.2H1881.87V381.0H1879.42ZM1882.56 773.2H1885.01V381.0H1882.56ZM1885.70 773.2H1888.15V381.0H1885.70ZM1888.84 773.2H1891.29V381.0H1888.84ZM1891.98 773.2H1894.43V322.6H1891.98ZM1895.11 773.2H1897.56V322.6H1895.11ZM1898.25 773.2H1900.70V322.6H1898.25ZM1901.39 773.2H1903.84V322.6H1901.39ZM1904.53 773.2H1906.98V322.6H1904.53ZM1907.67 773.2H1910.12V322.6H1907.67ZM1910.81 773.2H1913.26V322.6H1910.81ZM1913.95 773.2H1916.40V322.6H1913.95ZM1917.09 773.2H1919.54V219.4H1917.09ZM1920.23 773.2H1922.68V219.4H1920.23ZM1923.37 773.2H1925.82V219.4H1923.37ZM1926.51 773.2H1928.96V219.4H1926.51ZM1929.65 773.2H1932.10V219.4H1929.65ZM1932.79 773.2H1935.24V219.4H1932.79ZM1935.93 773.2H1938.38V219.4H1935.93ZM1939.07 773.2H1941.52V219.4H1939.07ZM1942.21 773.2H1944.66V323.8H1942.21ZM1945.35 773.2H1947.80V323.8H1945.35ZM1948.49 773.2H1950.94V323.8H1948.49ZM1951.63 773.2H1954.08V323.8H1951.63ZM1954.77 773.2H1957.22V323.8H1954.77ZM1957.91 773.2H1960.36V323.8H1957.91ZM1961.05 773.2H1963.50V323.8H1961.05ZM1964.19 773.2H1966.64V323.8H1964.19ZM1967.33 773.2H1969.78V439.8H1967.33ZM1970.47 773.2H1972.92V439.8H1970.47ZM1973.61 773.2H1976.06V439.8H1973.61ZM1976.74 773.2H1979.19V439.8H1976.74ZM1979.88 773.2H1982.33V439.8H1979.88ZM1983.02 773.2H1985.47V439.8H1983.02ZM1986.16 773.2H1988.61V439.8H1986.16ZM1989.30 773.2H1991.75V439.8H1989.30ZM1992.44 773.2H1994.89V412.2H1992.44ZM1995.58 773.2H1998.03V412.2H1995.58ZM1998.72 773.2H2001.17V412.2H1998.72ZM2001.86 773.2H2004.31V412.2H2001.86ZM2005.00 773.2H2007.45V412.2H2005.00ZM2008.14 773.2H2010.59V412.2H2008.14ZM2011.28 773.2H2013.73V412.2H2011.28ZM2014.42 773.2H2016.87V412.2H2014.42ZM2017.56 773.2H2020.01V249.4H2017.56ZM2020.70 773.2H2023.15V249.4H2020.70ZM2023.84 773.2H2026.29V249.4H2023.84ZM2026.98 773.2H2029.43V249.4H2026.98ZM2030.12 773.2H2032.57V249.4H2030.12ZM2033.26 773.2H2035.71V249.4H2033.26ZM2036.40 773.2H2038.85V249.4H2036.40ZM2039.54 773.2H2041.99V249.4H2039.54ZM2042.68 773.2H2045.13V467.0H2042.68ZM2045.82 773.2H2048.27V467.0H2045.82ZM2048.96 773.2H2051.41V467.0H2048.96ZM2052.10 773.2H2054.55V467.0H2052.10ZM2055.24 773.2H2057.69V467.0H2055.24ZM2058.38 773.2H2060.83V467.0H2058.38ZM2061.51 773.2H2063.96V467.0H2061.51ZM2064.65 773.2H2067.10V467.0H2064.65ZM2067.79 773.2H2070.24V475.4H2067.79ZM2070.93 773.2H2073.38V475.4H2070.93ZM2074.07 773.2H2076.52V475.4H2074.07ZM2077.21 773.2H2079.66V475.4H2077.21ZM2080.35 773.2H2082.80V475.4H2080.35ZM2083.49 773.2H2085.94V475.4H2083.49ZM2086.63 773.2H2089.08V475.4H2086.63ZM2089.77 773.2H2092.22V475.4H2089.77ZM2092.91 773.2H2095.36V449.8H2092.91ZM2096.05 773.2H2098.50V449.8H2096.05ZM2099.19 773.2H2101.64V449.8H2099.19ZM2102.33 773.2H2104.78V449.8H2102.33ZM2105.47 773.2H2107.92V449.8H2105.47ZM2108.61 773.2H2111.06V449.8H2108.61ZM2111.75 773.2H2114.20V449.8H2111.75ZM2114.89 773.2H2117.34V449.8H2114.89ZM2118.03 773.2H2120.48V432.6H2118.03ZM2121.17 773.2H2123.62V432.6H2121.17ZM2124.31 773.2H2126.76V432.6H2124.31ZM2127.45 773.2H2129.90V432.6H2127.45ZM2130.59 773.2H2133.04V432.6H2130.59ZM2133.73 773.2H2136.18V432.6H2133.73ZM2136.87 773.2H2139.32V432.6H2136.87ZM2140.01 773.2H2142.46V432.6H2140.01ZM2143.14 773.2H2145.59V561.7H2143.14ZM2146.28 773.2H2148.73V561.7H2146.28ZM2149.42 773.2H2151.87V561.7H2149.42ZM2152.56 773.2H2155.01V561.7H2152.56ZM2155.70 773.2H2158.15V561.7H2155.70ZM2158.84 773.2H2161.29V561.7H2158.84ZM2161.98 773.2H2164.43V561.7H2161.98ZM2165.12 773.2H2167.57V561.7H2165.12ZM2168.26 773.2H2170.71V502.6H2168.26ZM2171.40 773.2H2173.85V502.6H2171.40ZM2174.54 773.2H2176.99V502.6H2174.54ZM2177.68 773.2H2180.13V502.6H2177.68ZM2180.82 773.2H2183.27V502.6H2180.82ZM2183.96 773.2H2186.41V502.6H2183.96ZM2187.10 773.2H2189.55V502.6H2187.10ZM2190.24 773.2H2192.69V502.6H2190.24ZM2193.38 773.2H2195.83V439.8H2193.38ZM2196.52 773.2H2198.97V439.8H2196.52ZM2199.66 773.2H2202.11V439.8H2199.66ZM2202.80 773.2H2205.25V439.8H2202.80ZM2205.94 773.2H2208.39V439.8H2205.94ZM2209.08 773.2H2211.53V439.8H2209.08ZM2212.22 773.2H2214.67V439.8H2212.22ZM2215.36 773.2H2217.81V439.8H2215.36ZM2218.50 773.2H2220.95V384.0H2218.50ZM2221.64 773.2H2224.09V384.0H2221.64ZM2224.78 773.2H2227.23V384.0H2224.78ZM2227.91 773.2H2230.36V384.0H2227.91ZM2231.05 773.2H2233.50V384.0H2231.05ZM2234.19 773.2H2236.64V384.0H2234.19ZM2237.33 773.2H2239.78V384.0H2237.33ZM2240.47 773.2H2242.92V384.0H2240.47ZM2243.61 773.2H2246.06V405.4H2243.61ZM2246.75 773.2H2249.20V405.4H2246.75ZM2249.89 773.2H2252.34V405.4H2249.89ZM2253.03 773.2H2255.48V405.4H2253.03ZM2256.17 773.2H2258.62V405.4H2256.17ZM2259.31 773.2H2261.76V405.4H2259.31ZM2262.45 773.2H2264.90V405.4H2262.45ZM2265.59 773.2H2268.04V405.4H2265.59ZM2268.73 773.2H2271.18V411.0H2268.73ZM2271.87 773.2H2274.32V411.0H2271.87ZM2275.01 773.2H2277.46V411.0H2275.01ZM2278.15 773.2H2280.60V411.0H2278.15ZM2281.29 773.2H2283.74V411.0H2281.29ZM2284.43 773.2H2286.88V411.0H2284.43ZM2287.57 773.2H2290.02V411.0H2287.57ZM2290.71 773.2H2293.16V411.0H2290.71ZM2293.85 773.2H2296.30V428.2H2293.85ZM2296.99 773.2H2299.44V428.2H2296.99ZM2300.13 773.2H2302.58V428.2H2300.13ZM2303.27 773.2H2305.72V428.2H2303.27ZM2306.41 773.2H2308.86V428.2H2306.41ZM2309.55 773.2H2312.00V428.2H2309.55ZM2312.68 773.2H2315.13V428.2H2312.68ZM2315.82 773.2H2318.27V428.2H2315.82ZM2318.96 773.2H2321.41V729.5H2318.96ZM2322.10 773.2H2324.55V729.5H2322.10ZM2325.24 773.2H2327.69V729.5H2325.24ZM-16.92 773.2H-14.47V696.4H-16.92ZM-13.78 773.2H-11.33V696.4H-13.78ZM-10.64 773.2H-8.19V696.4H-10.64ZM-7.50 773.2H-5.05V696.4H-7.50ZM-4.36 773.2H-1.91V696.4H-4.36ZM-1.22 773.2H1.23V696.4H-1.22ZM1.92 773.2H4.37V696.4H1.92ZM5.06 773.2H7.51V696.4H5.06Z" fill="#b0e2ee"/>
<line x1="0" x2="2360" y1="773.7" y2="773.7" stroke="#e4e6f2" stroke-width="1"/>
<g clip-path="url(#cp)">
<path d="M3.5 372.5 L8.7 400.2 L12.8 407.1 L19.0 443.4 L21.8 404.3 L24.9 460.0 L28.4 467.6 L31.8 512.6 L34.6 550.7 L38.1 576.6 L41.5 569.7 L44.3 569.7 L47.4 559.3 L50.9 553.5 L53.6 556.6 L56.4 542.0 L59.5 534.1 L63.0 546.5 L66.4 545.5 L69.2 560.4 L72.7 569.7 L76.1 559.3 L78.9 557.6 L82.0 606.1 L84.8 618.2 L87.5 627.9 L90.7 618.2 L93.4 609.5 L95.2 585.3 L97.6 550.7 L101.0 539.3 L103.1 541.3 L106.6 519.6 L110.0 510.9 L112.8 509.2 L115.9 498.8 L119.4 488.4 L122.1 528.2 L125.6 543.1 L128.7 479.8 L132.2 476.3 L134.9 460.0 L138.4 464.2 L141.2 481.5 L144.6 460.7 L148.1 484.9 L150.5 502.2 L154.0 460.0 L157.4 483.2 L160.9 491.9 L163.7 486.7 L166.4 498.8 L169.6 450.3 L173.0 471.1 L176.5 483.2 L179.2 426.1 L182.4 398.4 L185.5 426.1 L188.6 423.7 L192.0 414.0 L194.8 410.6 L197.6 376.0 L201.0 405.4 L204.2 429.6 L207.6 407.1 L211.1 412.3 L213.8 420.9 L217.3 441.7 L220.4 444.1 L223.2 443.4 L226.6 422.7 L230.1 411.6 L232.9 405.4 L236.0 420.9 L239.4 407.1 L242.2 396.0 L245.7 392.6 L248.4 395.7 L251.9 386.3 L255.0 377.7 L257.8 371.8 L260.6 381.1 L263.7 403.6 L266.4 404.7 L269.9 398.4 L273.4 393.9 L276.8 403.6 L280.3 405.4 L283.0 404.7 L286.5 408.8 L289.3 413.3 L292.4 423.4 L295.2 422.7 L298.3 426.8 L301.0 472.8 L304.5 462.5 L307.3 486.7 L310.7 510.2 L314.2 486.7 L317.0 471.1 L320.1 484.9 L323.5 467.6 L327.0 450.3 L329.4 403.6 L332.9 376.0 L336.3 389.8 L339.8 382.9 L342.6 386.3 L346.0 363.8 L346.2 321.0 L348.8 281.9 L351.2 302.2 L354.4 285.1 L357.5 286.6 L360.6 290.4 L362.5 280.4 L367.2 122.8 L370.3 118.8 L373.4 37.5 L376.9 110.0 L379.7 81.9 L383.1 80.3 L386.2 84.4 L389.4 78.1 L392.8 111.9 L395.6 80.6 L398.8 110.0 L401.9 104.7 L405.0 68.1 L408.1 82.8 L411.2 114.1 L414.4 103.1 L417.2 99.1 L420.3 106.2 L424.1 117.2 L426.9 104.7 L430.0 118.8 L433.1 118.8 L436.2 140.6 L439.7 146.2 L442.5 99.4 L445.6 74.4 L448.8 92.2 L451.9 142.2 L455.0 117.2 L458.1 135.9 L461.2 131.2 L464.4 106.2 L467.5 108.4 L470.9 96.9 L472.2 150.0 L474.1 234.4 L477.2 250.0 L480.3 265.6 L483.4 288.2 L486.6 256.2 L489.7 246.9 L492.8 254.7 L495.9 260.9 L499.1 262.5 L503.1 299.1 L505.6 305.4 L508.8 277.2 L511.6 325.7 L514.7 317.9 L517.8 243.8 L520.9 221.9 L524.1 203.1 L527.2 187.5 L530.3 157.8 L533.4 187.5 L536.6 169.7 L539.7 187.5 L542.8 212.5 L545.9 128.1 L549.1 71.9 L552.2 104.1 L555.3 70.3 L558.4 32.8 L561.6 61.6 L564.7 62.5 L567.8 53.1 L570.9 46.2 L574.1 57.8 L577.2 48.4 L580.3 21.9 L583.4 40.6 L586.6 103.1 L589.7 73.4 L592.8 103.1 L595.9 114.1 L599.1 126.6 L602.2 150.0 L605.3 170.3 L608.4 212.5 L611.6 181.2 L614.7 170.3 L617.8 190.6 L620.9 125.0 L624.1 120.3 L627.2 153.1 L630.3 122.8 L633.4 122.8 L636.6 142.2 L639.7 150.0 L642.8 135.9 L646.0 170.0 L647.7 196.0 L649.4 235.7 L651.5 254.8 L653.2 268.3 L655.8 271.2 L659.4 284.2 L662.4 289.0 L665.5 266.5 L668.8 299.4 L671.9 241.8 L675.0 268.6 L678.1 246.1 L681.4 260.0 L684.4 333.5 L687.8 311.9 L690.6 307.5 L693.9 240.1 L697.0 247.9 L699.9 273.5 L703.4 220.2 L706.5 222.8 L709.6 215.8 L713.4 215.8 L716.0 190.4 L719.0 239.2 L722.4 310.1 L725.2 305.8 L728.5 307.9 L731.6 269.5 L734.7 254.8 L738.0 270.0 L741.1 254.4 L744.2 275.5 L747.3 274.3 L750.6 284.2 L753.6 279.9 L756.7 283.3 L759.8 312.7 L762.9 298.0 L766.2 286.8 L769.3 296.3 L772.6 279.9 L775.7 263.4 L778.8 222.8 L781.8 249.6 L784.9 277.3 L788.2 253.0 L791.3 279.0 L794.4 237.5 L797.7 265.5 L800.8 213.6 L803.9 271.2 L807.2 286.3 L810.3 287.3 L813.4 263.4 L816.4 244.4 L819.5 247.0 L822.8 237.1 L825.9 242.7 L827.3 280.7 L828.8 338.2 L828.8 320.0 L831.9 331.9 L835.0 321.0 L838.1 370.4 L841.2 370.4 L844.4 387.2 L847.5 381.9 L850.6 355.4 L853.8 371.0 L856.9 353.8 L860.0 371.0 L863.1 383.5 L866.2 388.2 L869.4 391.3 L872.5 377.2 L875.6 397.6 L878.8 406.9 L881.9 400.7 L885.0 392.9 L888.1 397.6 L891.2 377.2 L894.4 364.8 L897.5 388.2 L900.6 354.8 L903.8 367.9 L906.9 386.6 L910.0 372.6 L913.1 371.0 L916.2 371.6 L920.3 375.7 L923.4 381.9 L926.6 391.3 L929.7 405.4 L932.8 404.8 L935.9 402.2 L939.1 389.1 L942.2 391.9 L945.3 397.6 L948.4 414.8 L951.6 426.6 L954.7 416.3 L957.2 414.8 L960.3 461.6 L963.4 440.7 L966.6 442.9 L969.7 441.3 L972.8 436.6 L975.9 416.3 L979.1 397.6 L982.2 385.1 L985.3 383.5 L988.4 389.8 L991.6 374.1 L994.7 364.8 L997.8 366.3 L1000.9 361.6 L1004.1 377.2 L1007.2 363.2 L1010.3 368.5 L1013.4 374.1 L1016.6 366.3 L1019.7 381.9 L1022.8 394.4 L1026.6 399.8 L1029.7 388.2 L1032.8 387.2 L1035.9 369.4 L1039.1 352.9 L1042.2 360.1 L1045.3 372.6 L1048.4 369.4 L1051.6 356.9 L1054.7 342.9 L1057.8 361.6 L1060.9 372.6 L1064.1 370.4 L1067.2 374.1 L1070.3 373.5 L1073.4 374.1 L1076.6 386.0 L1079.7 389.8 L1082.8 378.8 L1085.9 366.3 L1089.1 360.7 L1092.2 360.1 L1095.3 349.8 L1098.4 357.9 L1101.6 361.6 L1104.7 357.9 L1107.8 362.2 L1110.9 360.7 L1114.1 363.8 L1117.2 361.6 L1120.3 363.8 L1123.4 358.5 L1126.6 353.8 L1130.6 354.4 L1133.8 359.4 L1136.9 352.9 L1140.0 355.4 L1143.1 364.8 L1146.2 391.3 L1149.4 380.4 L1152.5 389.8 L1155.6 387.2 L1158.8 405.4 L1161.9 421.0 L1165.0 430.4 L1168.1 436.6 L1171.2 430.4 L1174.4 425.7 L1177.5 431.9 L1180.6 425.7 L1183.8 441.3 L1186.9 453.8 L1190.0 467.9 L1193.1 456.9 L1196.2 453.8 L1199.4 460.1 L1202.5 471.0 L1205.6 483.5 L1208.8 489.8 L1211.9 489.8 L1215.0 521.0 L1217.2 519.4 L1220.3 541.3 L1221.9 557.6 L1224.4 565.4 L1227.5 557.6 L1231.2 519.4 L1234.4 511.6 L1237.5 530.4 L1240.6 477.2 L1243.8 460.1 L1246.9 467.2 L1250.0 458.5 L1253.1 466.3 L1256.2 480.4 L1259.4 494.4 L1262.5 500.7 L1265.6 494.4 L1268.8 492.9 L1271.9 511.6 L1275.0 506.9 L1278.1 504.8 L1281.2 511.0 L1284.4 506.0 L1287.5 511.0 L1290.6 503.8 L1293.8 496.0 L1296.9 491.3 L1300.0 500.7 L1303.1 508.5 L1306.2 510.1 L1309.4 491.3 L1312.5 493.5 L1315.6 485.1 L1318.8 481.0 L1321.9 478.8 L1325.0 471.0 L1328.1 439.8 L1331.2 442.2 L1334.4 433.5 L1337.5 425.7 L1340.6 421.6 L1343.8 412.2 L1346.9 421.0 L1350.0 417.9 L1353.1 427.2 L1356.2 431.9 L1359.4 403.8 L1362.5 417.9 L1365.6 429.8 L1368.8 430.4 L1371.9 430.4 L1375.0 439.8 L1378.1 438.8 L1381.2 444.4 L1384.4 455.4 L1387.5 488.2 L1390.6 491.3 L1393.8 477.2 L1396.9 481.9 L1400.0 474.1 L1403.1 477.2 L1406.2 499.1 L1409.4 527.2 L1412.5 524.1 L1415.6 527.2 L1418.8 528.8 L1422.5 549.8 L1425.6 552.0 L1431.2 521.0 L1434.4 505.4 L1437.5 491.3 L1440.6 503.8 L1443.8 510.1 L1446.9 502.2 L1450.0 499.1 L1453.1 497.6 L1456.2 502.2 L1459.4 488.2 L1462.5 491.3 L1465.6 497.6 L1468.8 500.7 L1471.9 505.4 L1475.0 511.6 L1478.1 505.4 L1481.2 497.6 L1484.4 486.6 L1487.5 458.5 L1490.6 474.1 L1493.8 486.0 L1496.9 483.5 L1500.0 477.2 L1503.1 500.7 L1506.2 501.6 L1509.4 496.0 L1512.5 499.1 L1515.6 500.7 L1518.8 494.4 L1521.9 502.2 L1525.0 500.7 L1528.1 486.6 L1531.2 444.4 L1534.4 471.0 L1537.5 464.8 L1540.6 456.9 L1543.8 452.2 L1546.9 442.2 L1550.0 433.5 L1553.1 430.4 L1556.2 438.2 L1559.4 444.4 L1562.5 438.2 L1565.6 417.9 L1568.8 381.9 L1571.9 380.4 L1575.0 356.9 L1578.1 361.6 L1581.2 371.0 L1584.4 381.9 L1587.5 397.6 L1590.6 400.7 L1593.8 346.0 L1596.9 344.4 L1599.7 349.1 L1600.0 363.2 L1603.1 346.0 L1606.2 314.1 L1609.4 311.6 L1612.5 317.9 L1617.2 318.5 L1620.3 319.4 L1623.4 306.9 L1626.6 331.9 L1629.7 335.1 L1632.8 321.0 L1635.9 310.1 L1639.1 321.0 L1642.2 338.2 L1645.3 325.7 L1648.4 311.6 L1651.6 306.9 L1654.7 308.5 L1657.8 283.5 L1658.1 283.5 L1660.9 280.4 L1661.1 280.5 L1664.1 283.5 L1664.3 283.5 L1667.2 288.2 L1667.3 288.1 L1670.3 247.7 L1673.5 282.3 L1676.5 244.2 L1679.5 273.1 L1682.8 251.2 L1685.8 259.2 L1688.8 247.0 L1692.0 244.9 L1695.0 258.1 L1698.0 269.6 L1701.2 278.8 L1704.2 277.2 L1707.7 265.0 L1710.7 273.5 L1714.2 266.6 L1717.4 278.8 L1720.4 289.2 L1723.4 293.8 L1726.6 308.5 L1729.7 317.9 L1732.8 330.4 L1735.9 367.9 L1739.1 338.2 L1742.2 303.8 L1745.3 310.1 L1748.4 317.9 L1751.6 328.8 L1754.7 291.3 L1757.8 299.1 L1760.9 310.1 L1764.1 324.1 L1767.2 302.2 L1768.8 275.4 L1771.2 238.5 L1774.2 206.2 L1777.4 200.4 L1780.4 176.2 L1783.4 209.6 L1786.6 187.7 L1789.6 179.6 L1792.6 145.0 L1795.8 165.3 L1798.8 164.6 L1802.3 151.2 L1805.3 139.2 L1808.5 114.3 L1811.5 132.3 L1814.5 145.0 L1817.8 159.5 L1821.2 175.0 L1824.2 175.7 L1827.2 181.2 L1830.5 173.8 L1833.5 184.2 L1836.5 201.5 L1839.7 232.7 L1842.7 210.8 L1845.7 212.4 L1848.9 256.9 L1851.9 251.2 L1855.4 267.3 L1858.8 232.7 L1861.8 226.9 L1865.1 247.7 L1868.1 271.9 L1869.4 333.5 L1870.9 389.1 L1874.1 356.9 L1877.2 361.6 L1880.3 369.4 L1883.4 368.8 L1885.0 408.5 L1887.5 450.7 L1890.6 451.6 L1893.8 483.5 L1896.2 464.8 L1899.4 485.1 L1902.5 494.4 L1905.6 503.8 L1907.5 539.8 L1909.4 588.9 L1912.5 629.5 L1915.0 676.4 L1918.1 657.6 L1920.3 588.9 L1921.9 562.3 L1925.0 556.1 L1928.8 502.2 L1931.2 466.3 L1933.8 470.1 L1936.9 454.4 L1940.0 453.2 L1943.1 477.2 L1946.2 462.2 L1949.4 450.1 L1952.5 467.9 L1955.6 503.8 L1958.8 513.2 L1961.9 524.1 L1965.0 499.1 L1968.1 517.9 L1971.9 568.6 L1975.0 554.5 L1978.1 554.5 L1981.2 549.8 L1984.4 553.9 L1987.5 561.4 L1990.6 567.6 L1993.8 561.4 L1996.9 562.3 L2000.0 609.2 L2003.1 611.4 L2006.2 592.0 L2009.4 612.3 L2012.5 633.6 L2015.6 638.9 L2018.8 677.9 L2021.9 678.6 L2025.0 607.0 L2028.1 608.2 L2031.2 629.5 L2034.4 633.2 L2037.5 648.2 L2040.6 627.9 L2043.8 614.5 L2046.9 620.1 L2050.0 598.2 L2053.1 613.9 L2056.2 593.6 L2059.4 585.8 L2062.5 595.8 L2065.6 603.6 L2068.8 602.9 L2071.9 598.2 L2075.0 626.4 L2078.1 635.8 L2081.2 649.8 L2084.4 641.4 L2087.5 642.6 L2090.6 640.4 L2093.8 643.6 L2096.9 642.0 L2100.0 645.1 L2103.1 649.8 L2106.2 659.2 L2109.4 653.9 L2112.5 660.1 L2115.6 663.2 L2118.8 641.1 L2121.9 641.4 L2125.0 644.2 L2128.1 640.4 L2131.2 654.5 L2134.4 668.6 L2137.5 662.3 L2140.6 656.1 L2143.8 664.8 L2146.9 672.3 L2150.0 667.9 L2153.1 667.9 L2156.2 670.8 L2159.4 664.5 L2162.5 666.1 L2165.6 656.1 L2168.8 654.5 L2171.9 656.1 L2175.0 668.6 L2178.1 680.1 L2181.2 677.9 L2184.4 685.8 L2187.5 695.1 L2190.6 713.9 L2193.8 748.2 L2196.9 735.8 L2200.0 745.1 L2203.1 740.4 L2206.2 734.2 L2209.4 749.8 L2212.5 749.8 L2215.6 747.3 L2218.8 738.2 L2222.5 738.9 L2225.6 764.8 L2228.8 764.8 L2231.9 723.2 L2235.0 722.3 L2238.1 710.8 L2241.2 699.8 L2244.4 670.1 L2247.5 669.2 L2250.6 672.6 L2253.8 673.9 L2256.9 677.0 L2260.0 684.2 L2263.1 670.8 L2266.2 663.9 L2269.4 656.7 L2272.5 652.0 L2275.6 652.3 L2278.8 662.3 L2281.9 654.5 L2285.0 652.0 L2288.1 650.8 L2291.2 641.4 L2294.4 646.7 L2297.5 674.8 L2300.6 662.3 L2303.8 658.2 L2306.9 658.6 L2310.0 656.7 L2313.1 655.1 L2316.2 653.9 L2319.4 642.0 L2322.5 639.8 L2325.9 643.6" fill="none" stroke-width="2.2" stroke-linejoin="round" stroke-linecap="round" stroke="#26c953"/>
<path d="M0 671.4 L0.0 724.8 L9.8 724.8 L31.6 724.8 L34.9 732.6 L56.7 732.6 L60.0 726.4 L81.8 726.4 L85.2 717.0 L107.0 717.0 L110.3 727.6 L132.1 727.6 L135.4 711.7 L157.2 711.7 L160.5 665.1 L182.3 665.1 L185.6 710.4 L207.4 710.4 L210.7 689.2 L232.5 689.2 L235.9 708.6 L257.7 708.6 L261.0 681.0 L282.8 681.0 L286.1 683.6 L307.9 683.6 L311.2 698.9 L333.0 698.9 L336.3 716.7 L358.1 716.7 L361.4 735.8 L383.2 735.8 L386.6 662.0 L408.4 662.0 L411.7 681.0 L433.5 681.0 L436.8 487.6 L458.6 487.6 L461.9 619.8 L483.7 619.8 L487.0 594.2 L508.8 594.2 L512.1 720.8 L533.9 720.8 L537.3 699.2 L559.1 699.2 L562.4 697.0 L584.2 697.0 L587.5 692.3 L609.3 692.3 L612.6 738.6 L634.4 738.6 L637.7 669.5 L659.5 669.5 L662.8 696.7 L684.6 696.7 L688.0 610.0 L709.8 610.0 L713.1 530.4 L734.9 530.4 L738.2 450.7 L760.0 450.7 L763.3 691.4 L785.1 691.4 L788.4 704.2 L810.2 704.2 L813.5 584.8 L835.3 584.8 L838.7 478.2 L860.5 478.2 L863.8 383.8 L885.6 383.8 L888.9 502.9 L910.7 502.9 L914.0 415.4 L935.8 415.4 L939.1 589.5 L960.9 589.5 L964.2 607.3 L986.0 607.3 L989.4 623.2 L1011.2 623.2 L1014.5 683.9 L1036.3 683.9 L1039.6 682.6 L1061.4 682.6 L1064.7 720.8 L1086.5 720.8 L1089.8 723.0 L1111.6 723.0 L1114.9 702.6 L1136.7 702.6 L1140.1 452.9 L1161.9 452.9 L1165.2 617.6 L1187.0 617.6 L1190.3 740.4 L1212.1 740.4 L1215.4 772.3 L1237.2 772.3 L1240.5 692.9 L1262.3 692.9 L1265.7 719.8 L1287.5 719.8 L1290.8 727.0 L1312.6 727.0 L1315.9 15.5 L1337.7 15.5 L1341.0 682.6 L1362.8 682.6 L1366.1 690.8 L1387.9 690.8 L1391.2 687.9 L1413.0 687.9 L1416.4 692.9 L1438.2 692.9 L1441.5 687.9 L1463.3 687.9 L1466.6 377.9 L1488.4 377.9 L1491.7 693.9 L1513.5 693.9 L1516.8 693.2 L1538.6 693.2 L1541.9 713.6 L1563.7 713.6 L1567.1 702.0 L1588.9 702.0 L1592.2 663.6 L1614.0 663.6 L1617.3 293.8 L1639.1 293.8 L1642.4 705.4 L1664.2 705.4 L1667.5 665.8 L1689.3 665.8 L1692.6 690.4 L1714.4 690.4 L1717.8 670.1 L1739.6 670.1 L1742.9 709.8 L1764.7 709.8 L1768.0 689.8 L1789.8 689.8 L1793.1 677.6 L1814.9 677.6 L1818.2 701.0 L1840.0 701.0 L1843.3 698.9 L1865.1 698.9 L1868.5 707.0 L1890.3 707.0 L1893.6 698.9 L1915.4 698.9 L1918.7 675.8 L1940.5 675.8 L1943.8 687.6 L1965.6 687.6 L1968.9 711.4 L1990.7 711.4 L1994.0 711.4 L2015.8 711.4 L2019.2 687.3 L2041.0 687.3 L2044.3 707.6 L2066.1 707.6 L2069.4 705.4 L2091.2 705.4 L2094.5 703.9 L2116.3 703.9 L2119.6 682.0 L2141.4 682.0 L2144.7 717.9 L2166.5 717.9 L2169.9 708.9 L2191.7 708.9 L2195.0 715.8 L2216.8 715.8 L2220.1 721.4 L2241.9 721.4 L2245.2 697.6 L2267.0 697.6 L2270.3 699.2 L2292.1 699.2 L2295.4 711.0 L2317.2 711.0 L2317.2 671.4 Z" fill="#ee1c25" fill-opacity="0.16"/>
<line x1="0" x2="2317.2" y1="671.4" y2="671.4" stroke="#e5424c" stroke-width="1.2"/>
<path d="M0.0 724.8 L9.8 724.8 L31.6 724.8 L34.9 732.6 L56.7 732.6 L60.0 726.4 L81.8 726.4 L85.2 717.0 L107.0 717.0 L110.3 727.6 L132.1 727.6 L135.4 711.7 L157.2 711.7 L160.5 665.1 L182.3 665.1 L185.6 710.4 L207.4 710.4 L210.7 689.2 L232.5 689.2 L235.9 708.6 L257.7 708.6 L261.0 681.0 L282.8 681.0 L286.1 683.6 L307.9 683.6 L311.2 698.9 L333.0 698.9 L336.3 716.7 L358.1 716.7 L361.4 735.8 L383.2 735.8 L386.6 662.0 L408.4 662.0 L411.7 681.0 L433.5 681.0 L436.8 487.6 L458.6 487.6 L461.9 619.8 L483.7 619.8 L487.0 594.2 L508.8 594.2 L512.1 720.8 L533.9 720.8 L537.3 699.2 L559.1 699.2 L562.4 697.0 L584.2 697.0 L587.5 692.3 L609.3 692.3 L612.6 738.6 L634.4 738.6 L637.7 669.5 L659.5 669.5 L662.8 696.7 L684.6 696.7 L688.0 610.0 L709.8 610.0 L713.1 530.4 L734.9 530.4 L738.2 450.7 L760.0 450.7 L763.3 691.4 L785.1 691.4 L788.4 704.2 L810.2 704.2 L813.5 584.8 L835.3 584.8 L838.7 478.2 L860.5 478.2 L863.8 383.8 L885.6 383.8 L888.9 502.9 L910.7 502.9 L914.0 415.4 L935.8 415.4 L939.1 589.5 L960.9 589.5 L964.2 607.3 L986.0 607.3 L989.4 623.2 L1011.2 623.2 L1014.5 683.9 L1036.3 683.9 L1039.6 682.6 L1061.4 682.6 L1064.7 720.8 L1086.5 720.8 L1089.8 723.0 L1111.6 723.0 L1114.9 702.6 L1136.7 702.6 L1140.1 452.9 L1161.9 452.9 L1165.2 617.6 L1187.0 617.6 L1190.3 740.4 L1212.1 740.4 L1215.4 772.3 L1237.2 772.3 L1240.5 692.9 L1262.3 692.9 L1265.7 719.8 L1287.5 719.8 L1290.8 727.0 L1312.6 727.0 L1315.9 15.5 L1337.7 15.5 L1341.0 682.6 L1362.8 682.6 L1366.1 690.8 L1387.9 690.8 L1391.2 687.9 L1413.0 687.9 L1416.4 692.9 L1438.2 692.9 L1441.5 687.9 L1463.3 687.9 L1466.6 377.9 L1488.4 377.9 L1491.7 693.9 L1513.5 693.9 L1516.8 693.2 L1538.6 693.2 L1541.9 713.6 L1563.7 713.6 L1567.1 702.0 L1588.9 702.0 L1592.2 663.6 L1614.0 663.6 L1617.3 293.8 L1639.1 293.8 L1642.4 705.4 L1664.2 705.4 L1667.5 665.8 L1689.3 665.8 L1692.6 690.4 L1714.4 690.4 L1717.8 670.1 L1739.6 670.1 L1742.9 709.8 L1764.7 709.8 L1768.0 689.8 L1789.8 689.8 L1793.1 677.6 L1814.9 677.6 L1818.2 701.0 L1840.0 701.0 L1843.3 698.9 L1865.1 698.9 L1868.5 707.0 L1890.3 707.0 L1893.6 698.9 L1915.4 698.9 L1918.7 675.8 L1940.5 675.8 L1943.8 687.6 L1965.6 687.6 L1968.9 711.4 L1990.7 711.4 L1994.0 711.4 L2015.8 711.4 L2019.2 687.3 L2041.0 687.3 L2044.3 707.6 L2066.1 707.6 L2069.4 705.4 L2091.2 705.4 L2094.5 703.9 L2116.3 703.9 L2119.6 682.0 L2141.4 682.0 L2144.7 717.9 L2166.5 717.9 L2169.9 708.9 L2191.7 708.9 L2195.0 715.8 L2216.8 715.8 L2220.1 721.4 L2241.9 721.4 L2245.2 697.6 L2267.0 697.6 L2270.3 699.2 L2292.1 699.2 L2295.4 711.0 L2317.2 711.0" fill="none" stroke-width="2.2" stroke-linejoin="round" stroke-linecap="round" stroke="#ee1c25"/>
<path d="M3.1 246.9 L5.6 265.6 L9.4 265.6 L11.9 260.9 L15.6 261.9 L19.4 288.2 L21.9 305.4 L25.0 317.9 L28.1 332.6 L31.2 328.2 L34.4 337.6 L37.5 338.2 L43.8 342.9 L47.5 352.9 L50.6 356.0 L53.8 354.1 L57.8 359.4 L62.5 366.3 L66.2 368.8 L69.4 369.4 L73.4 378.8 L76.6 380.4 L79.7 377.2 L82.8 381.0 L85.9 386.0 L88.4 387.2 L91.6 408.5 L94.4 423.5 L97.5 417.2 L100.6 394.4 L103.8 417.9 L106.2 412.2 L109.4 416.3 L112.5 408.5 L116.2 428.8 L119.4 413.2 L122.5 392.9 L125.6 338.2 L128.8 361.6 L132.8 344.4 L135.3 341.3 L138.4 342.9 L141.2 360.1 L144.4 369.4 L147.5 298.5 L150.6 302.2 L153.8 324.1 L156.9 314.8 L160.3 305.4 L163.1 308.5 L166.2 282.9 L169.4 317.9 L172.5 345.4 L175.6 343.5 L178.8 347.6 L181.9 346.0 L185.0 350.1 L188.1 340.4 L191.2 345.4 L194.4 342.2 L197.5 324.8 L200.6 329.8 L203.8 335.1 L206.9 343.5 L210.0 342.2 L213.1 339.1 L216.2 340.4 L219.7 345.1 L222.8 339.1 L225.9 335.1 L229.1 337.2 L232.2 332.6 L235.3 332.2 L239.1 330.4 L242.2 332.6 L245.3 331.6 L248.4 334.8 L251.6 334.8 L254.7 328.8 L257.8 301.3 L260.9 299.8 L264.1 299.1 L267.2 273.5 L270.3 272.6 L273.4 279.8 L276.6 303.8 L279.7 324.1 L282.8 342.9 L285.9 354.8 L288.4 363.2 L291.6 343.5 L294.7 353.8 L297.8 374.1 L300.9 399.1 L304.7 427.2 L307.8 388.2 L310.3 390.4 L313.4 381.9 L316.6 375.7 L319.7 331.9 L322.8 389.1 L325.9 367.9 L329.1 354.8 L332.2 367.9 L335.0 373.5 L338.8 370.4 L342.2 398.5 L345.3 355.4 L348.4 317.9 L351.6 308.5 L354.7 297.6 L357.8 289.8 L360.9 280.4 L367.2 259.4 L370.3 218.8 L373.4 193.8 L376.6 175.0 L379.7 172.8 L382.8 164.1 L387.5 165.6 L392.2 167.2 L396.2 169.1 L398.4 169.1 L401.6 171.2 L405.3 173.8 L408.4 169.1 L411.2 163.4 L414.1 164.7 L417.2 162.5 L420.3 159.4 L423.4 145.3 L426.6 139.7 L429.7 141.2 L432.8 163.1 L435.9 166.6 L439.1 168.8 L442.2 175.0 L445.3 196.2 L448.4 185.3 L451.6 187.5 L454.7 174.1 L457.8 171.2 L460.9 172.8 L464.1 167.2 L467.2 169.4 L470.9 167.2 L474.1 155.6 L477.2 179.7 L480.3 192.2 L483.4 219.7 L486.6 214.1 L489.7 221.9 L492.8 218.8 L494.7 250.0 L496.9 275.7 L499.4 274.8 L502.5 292.9 L505.6 284.1 L508.8 292.2 L511.9 298.5 L515.0 305.4 L517.8 285.1 L520.3 328.8 L523.4 342.9 L526.6 356.9 L529.7 383.5 L531.2 395.4 L535.0 398.5 L537.5 401.6 L539.7 401.3 L542.8 421.0 L544.2 440.0 L545.8 461.0 L547.5 477.1 L549.1 491.7 L550.7 504.6 L552.8 522.0 L555.5 519.1 L557.1 528.8 L559.1 538.0 L561.7 542.5 L565.2 545.3 L568.4 547.4 L571.3 532.0 L574.4 539.3 L577.3 532.8 L580.9 528.5 L584.1 537.7 L587.0 545.8 L590.2 546.1 L593.5 546.9 L596.7 545.8 L599.6 561.4 L602.7 559.2 L605.6 561.9 L609.1 564.0 L612.0 560.3 L615.3 553.8 L618.5 545.8 L620.1 524.0 L621.7 505.4 L624.6 489.2 L627.9 498.1 L630.9 506.7 L633.8 505.9 L637.4 505.4 L640.3 507.5 L643.8 511.9 L646.8 536.9 L649.7 520.7 L651.3 502.2 L653.2 482.8 L656.1 464.2 L659.2 478.8 L662.6 478.8 L665.8 474.7 L667.7 461.0 L669.4 440.0 L671.2 396.0 L675.0 369.4 L677.5 372.6 L680.6 396.0 L683.8 378.8 L686.6 375.7 L689.7 375.7 L692.8 386.6 L695.9 389.1 L700.0 411.6 L703.1 416.9 L706.2 388.2 L709.4 364.8 L712.5 371.0 L715.6 375.7 L718.8 388.2 L722.5 375.7 L725.6 366.3 L728.1 371.0 L731.2 355.4 L734.4 341.3 L737.5 317.9 L740.6 303.8 L743.8 299.8 L746.9 307.9 L750.0 304.8 L753.1 311.6 L756.9 314.8 L760.0 310.1 L764.1 306.9 L768.1 305.4 L771.9 306.0 L775.6 299.1 L778.1 303.2 L781.2 298.5 L784.4 296.0 L787.5 298.2 L792.8 301.3 L795.9 321.0 L799.7 349.1 L800.0 355.4 L803.1 333.5 L806.2 321.0 L809.4 306.9 L813.1 300.1 L816.2 305.4 L819.4 322.6 L822.5 297.6 L825.6 349.1 L828.8 375.7 L831.2 391.3 L834.4 399.1 L837.5 408.5 L840.6 416.3 L843.8 439.8 L845.9 471.0 L847.5 502.2 L850.0 530.4 L853.8 567.0 L856.9 554.5 L860.0 567.0 L864.1 570.1 L869.4 573.2 L872.5 546.7 L875.6 562.3 L878.1 559.2 L881.9 576.4 L885.9 609.2 L889.1 610.1 L892.2 606.1 L895.3 600.8 L898.4 617.0 L901.6 631.1 L904.1 635.8 L907.2 662.3 L910.3 657.6 L913.4 674.8 L916.6 687.3 L919.7 691.1 L922.8 696.1 L926.6 690.4 L931.9 688.9 L935.3 677.0 L938.4 678.9 L941.6 681.7 L945.3 682.0 L948.4 684.5 L951.6 682.6 L954.7 680.4 L957.8 685.1 L960.9 686.7 L964.1 684.2 L966.6 687.3 L969.7 709.2 L972.8 721.7 L976.6 759.2 L979.7 765.4 L982.8 754.5 L985.9 735.8 L989.1 732.6 L992.2 728.6 L995.3 732.0 L998.4 752.9 L1001.6 748.2 L1004.7 749.2 L1007.8 720.1 L1010.9 679.5 L1014.1 671.7 L1017.2 667.9 L1020.3 676.4 L1023.4 680.1 L1026.6 690.4 L1029.7 672.6 L1032.8 676.4 L1035.9 629.5 L1039.1 624.8 L1042.2 619.5 L1045.3 620.8 L1048.4 627.9 L1051.6 613.9 L1054.7 599.8 L1057.8 607.6 L1060.9 575.4 L1064.7 569.2 L1067.2 572.3 L1070.3 565.4 L1076.6 525.7 L1079.7 510.1 L1083.1 491.3 L1086.2 508.5 L1089.4 509.1 L1093.8 511.6 L1096.9 507.9 L1100.0 514.8 L1104.7 516.3 L1107.8 518.8 L1110.9 517.9 L1114.1 519.4 L1118.8 518.8 L1121.9 520.4 L1125.0 516.3 L1128.1 524.1 L1130.6 523.5 L1133.8 511.0 L1136.9 513.2 L1140.0 511.0 L1143.1 510.1 L1145.6 506.9 L1148.8 464.8 L1151.9 433.5 L1155.0 408.5 L1158.1 385.1 L1161.2 417.9 L1164.4 421.0 L1167.5 422.6 L1170.6 414.8 L1173.8 358.5 L1176.9 355.4 L1180.0 335.1 L1183.1 364.8 L1186.9 397.6 L1190.0 392.9 L1193.1 389.8 L1196.9 391.3 L1200.0 394.4 L1202.5 402.2 L1205.6 367.9 L1208.8 374.1 L1211.9 413.2 L1215.0 412.2 L1218.1 417.2 L1221.2 406.9 L1224.4 414.8 L1227.5 386.6 L1231.2 361.6 L1234.4 349.1 L1237.5 352.2 L1240.6 344.4 L1245.3 339.1 L1249.1 333.5 L1252.2 303.8 L1255.3 302.2 L1258.4 295.4 L1262.5 289.1 L1265.6 289.1 L1268.8 285.1 L1271.9 274.1 L1277.5 263.1 L1283.8 265.6 L1287.5 272.6 L1290.6 265.6 L1293.8 260.9 L1296.9 253.1 L1299.4 256.2 L1303.1 253.1 L1306.2 251.6 L1309.4 267.2 L1312.5 257.8 L1315.0 265.6 L1318.8 264.1 L1321.2 266.2 L1325.0 286.6 L1328.1 302.2 L1331.2 346.0 L1334.4 380.4 L1337.5 376.6 L1339.1 370.4 L1342.2 371.0 L1345.3 375.7 L1347.5 402.2 L1350.0 456.9 L1353.1 459.1 L1356.2 429.8 L1360.9 430.4 L1364.1 433.5 L1367.2 434.1 L1369.4 397.6 L1371.9 380.4 L1375.0 375.7 L1378.1 347.6 L1381.2 385.1 L1384.4 379.8 L1387.5 380.4 L1390.6 383.5 L1393.8 378.8 L1396.9 396.0 L1400.0 414.8 L1403.1 446.0 L1406.2 452.2 L1409.4 449.1 L1412.5 445.4 L1415.6 443.5 L1419.4 427.2 L1421.9 435.1 L1425.0 477.2 L1428.1 521.0 L1431.2 527.2 L1435.9 530.4 L1439.1 531.3 L1443.8 528.8 L1450.0 550.8 L1453.1 555.1 L1456.2 554.5 L1459.4 546.7 L1462.5 530.4 L1466.2 522.6 L1469.4 524.1 L1472.5 530.4 L1476.6 529.1 L1481.2 528.8 L1485.0 516.3 L1488.1 523.5 L1490.6 513.2 L1494.4 511.6 L1497.5 508.5 L1500.0 502.2 L1502.5 471.0 L1505.0 439.8 L1507.8 416.3 L1510.9 408.5 L1513.4 399.1 L1516.6 407.9 L1519.7 407.9 L1522.8 389.8 L1525.0 349.1 L1528.1 346.0 L1531.2 380.4 L1534.4 371.0 L1538.1 388.2 L1541.2 392.9 L1544.4 393.8 L1547.5 433.5 L1550.9 456.9 L1553.8 380.4 L1556.9 353.8 L1560.0 337.2 L1563.1 338.8 L1566.2 343.5 L1569.4 348.2 L1572.5 324.1 L1575.0 297.6 L1578.8 229.7 L1581.9 254.7 L1585.0 259.4 L1593.8 289.8 L1595.9 302.2 L1599.7 280.4 L1601.6 256.2 L1603.8 238.1 L1606.9 240.0 L1610.0 233.8 L1614.1 231.9 L1617.2 235.0 L1620.3 240.0 L1625.0 235.9 L1629.7 231.2 L1632.8 228.1 L1635.9 239.1 L1639.1 259.4 L1642.8 256.2 L1645.3 259.4 L1650.0 260.4 L1651.8 259.2 L1654.6 251.2 L1658.1 255.8 L1661.1 266.6 L1664.3 252.3 L1667.3 256.9 L1670.3 258.1 L1673.5 251.8 L1676.5 267.3 L1679.5 284.6 L1682.8 276.5 L1685.8 281.2 L1688.8 278.8 L1692.0 271.9 L1695.5 272.6 L1698.0 286.9 L1701.6 321.0 L1704.7 330.4 L1707.8 300.7 L1708.8 283.5 L1711.2 259.2 L1714.2 235.0 L1717.4 231.5 L1720.4 235.7 L1723.4 224.6 L1726.8 196.9 L1730.1 237.8 L1733.1 236.6 L1736.5 244.2 L1739.5 232.7 L1742.8 228.1 L1745.8 217.0 L1748.8 243.1 L1752.0 259.2 L1755.0 271.9 L1758.0 229.2 L1761.2 212.4 L1764.2 209.6 L1767.7 206.2 L1770.7 202.0 L1773.9 228.1 L1776.9 208.5 L1779.9 186.5 L1783.4 153.5 L1786.6 148.9 L1789.6 143.8 L1792.6 140.8 L1795.8 142.2 L1798.8 143.8 L1801.8 135.3 L1805.1 121.9 L1808.1 127.2 L1811.5 129.5 L1814.5 128.2 L1817.8 141.5 L1820.8 142.7 L1824.2 139.2 L1827.2 142.7 L1830.5 152.6 L1833.5 154.9 L1836.5 158.2 L1839.7 161.2 L1842.7 163.5 L1845.7 168.1 L1848.9 169.2 L1852.4 173.2 L1855.4 196.9 L1858.8 218.8 L1861.8 210.3 L1865.1 212.6 L1868.1 196.9 L1871.1 193.5 L1874.3 193.9 L1877.3 201.5 L1880.8 161.2 L1883.8 173.8 L1887.0 194.6 L1890.0 218.2 L1893.0 219.3 L1896.2 220.5 L1899.2 228.1 L1902.7 215.4 L1905.7 220.0 L1908.9 207.3 L1911.9 180.8 L1914.9 171.1 L1918.2 172.7 L1921.2 180.8 L1924.6 177.3 L1927.6 155.4 L1930.8 171.5 L1933.8 194.6 L1937.3 212.4 L1940.3 207.8 L1943.5 214.7 L1946.5 223.0 L1949.3 218.2 L1952.2 220.9 L1955.3 259.4 L1958.4 268.8 L1961.6 257.8 L1965.6 274.1 L1968.1 276.6 L1970.9 264.1 L1974.1 265.6 L1977.2 262.5 L1981.2 272.2 L1987.5 260.9 L1990.6 256.2 L1993.8 255.6 L1996.9 256.2 L2000.0 260.0 L2003.1 264.7 L2006.2 261.9 L2009.4 259.4 L2012.5 258.8 L2015.6 268.8 L2018.8 267.2 L2021.9 264.1 L2025.0 267.2 L2028.1 243.8 L2031.2 206.2 L2034.4 189.1 L2037.5 181.2 L2040.6 170.3 L2043.8 160.3 L2046.9 150.0 L2050.0 137.5 L2053.1 93.8 L2056.2 65.6 L2058.8 70.3 L2061.9 50.0 L2065.0 24.4 L2068.8 24.4 L2071.9 30.3 L2075.0 31.2 L2078.1 53.1 L2081.2 65.6 L2084.4 51.6 L2087.5 98.4 L2090.6 103.1 L2093.8 81.2 L2096.9 80.6 L2100.0 65.6 L2103.1 84.4 L2106.2 73.4 L2109.4 66.2 L2112.5 53.1 L2115.6 65.6 L2118.8 63.1 L2121.9 64.1 L2125.0 68.8 L2128.1 95.3 L2131.2 75.0 L2134.4 43.8 L2137.5 64.1 L2140.6 59.4 L2143.8 56.9 L2146.9 68.8 L2150.0 69.4 L2153.1 80.6 L2156.2 85.9 L2159.4 88.1 L2162.5 95.3 L2167.2 96.2 L2171.9 96.2 L2178.1 96.9 L2181.2 100.0 L2184.4 98.4 L2187.5 100.6 L2190.6 93.8 L2193.8 91.2 L2196.9 93.8 L2200.0 101.6 L2203.1 128.1 L2206.9 160.9 L2210.0 134.4 L2213.1 106.2 L2216.2 117.2 L2219.4 150.0 L2222.5 162.5 L2225.6 173.4 L2228.8 196.9 L2231.9 240.6 L2235.0 232.8 L2238.1 253.1 L2241.2 262.5 L2244.4 246.9 L2247.5 240.0 L2250.6 243.8 L2253.8 256.2 L2256.2 288.2 L2258.4 327.2 L2260.3 363.2 L2263.1 335.1 L2266.2 337.2 L2269.4 347.6 L2272.5 341.3 L2275.6 350.7 L2278.8 360.1 L2281.9 389.8 L2285.0 395.4 L2288.1 419.4 L2291.2 427.2 L2294.4 431.0 L2297.5 429.8 L2301.6 426.6 L2304.7 399.1 L2307.8 396.0 L2310.9 441.3 L2314.1 454.8 L2317.2 427.2 L2320.3 423.5 L2322.8 423.2" fill="none" stroke-width="2.2" stroke-linejoin="round" stroke-linecap="round" stroke="#8358ff"/>
</g>
<line x1="2360.2" x2="2360.2" y1="9" y2="773" stroke="#50d678" stroke-width="2"/>
<line x1="2426.9" x2="2426.9" y1="9" y2="773" stroke="#e8161b" stroke-width="1.3"/>
<line x1="2493.5" x2="2493.5" y1="9" y2="773" stroke="#855cff" stroke-width="1.5"/>
<g font-family="Liberation Sans, sans-serif"><text transform="translate(2367.8,13.1) scale(0.875,1)" text-anchor="start" fill="#99a5c1" font-size="15.2">16.839</text><text transform="translate(2501.2,13.1) scale(0.875,1)" text-anchor="start" fill="#99a5c1" font-size="15.2">52.318</text><text transform="translate(2367.8,108.6) scale(0.875,1)" text-anchor="start" fill="#99a5c1" font-size="15.2">15.827</text><text transform="translate(2501.2,108.6) scale(0.875,1)" text-anchor="start" fill="#99a5c1" font-size="15.2">49.181</text><text transform="translate(2367.8,204.2) scale(0.875,1)" text-anchor="start" fill="#99a5c1" font-size="15.2">14.816</text><text transform="translate(2501.2,204.2) scale(0.875,1)" text-anchor="start" fill="#99a5c1" font-size="15.2">46.045</text><text transform="translate(2367.8,299.8) scale(0.875,1)" text-anchor="start" fill="#99a5c1" font-size="15.2">13.805</text><text transform="translate(2501.2,299.8) scale(0.875,1)" text-anchor="start" fill="#99a5c1" font-size="15.2">42.908</text><text transform="translate(2367.8,395.3) scale(0.875,1)" text-anchor="start" fill="#99a5c1" font-size="15.2">12.794</text><text transform="translate(2501.2,395.3) scale(0.875,1)" text-anchor="start" fill="#99a5c1" font-size="15.2">39.772</text><text transform="translate(2367.8,490.9) scale(0.875,1)" text-anchor="start" fill="#99a5c1" font-size="15.2">11.782</text><text transform="translate(2501.2,490.9) scale(0.875,1)" text-anchor="start" fill="#99a5c1" font-size="15.2">36.635</text><text transform="translate(2367.8,586.5) scale(0.875,1)" text-anchor="start" fill="#99a5c1" font-size="15.2">10.771</text><text transform="translate(2501.2,586.5) scale(0.875,1)" text-anchor="start" fill="#99a5c1" font-size="15.2">33.498</text><text transform="translate(2367.8,682.0) scale(0.875,1)" text-anchor="start" fill="#99a5c1" font-size="15.2">9.76</text><text transform="translate(2501.2,682.0) scale(0.875,1)" text-anchor="start" fill="#99a5c1" font-size="15.2">30.362</text><text transform="translate(2367.8,777.6) scale(0.875,1)" text-anchor="start" fill="#99a5c1" font-size="15.2">8.749</text><text transform="translate(2501.2,777.6) scale(0.875,1)" text-anchor="start" fill="#99a5c1" font-size="15.2">27.225</text><text transform="translate(2434.8,13.1) scale(0.875,1)" text-anchor="start" fill="#99a5c1" font-size="15.2">7.138</text><text transform="translate(2434.8,178.4) scale(0.875,1)" text-anchor="start" fill="#99a5c1" font-size="15.2">5.353</text><text transform="translate(2434.8,343.7) scale(0.875,1)" text-anchor="start" fill="#99a5c1" font-size="15.2">3.569</text><text transform="translate(2434.8,509.2) scale(0.875,1)" text-anchor="start" fill="#99a5c1" font-size="15.2">1.784</text><text transform="translate(2434.8,674.5) scale(0.875,1)" text-anchor="start" fill="#99a5c1" font-size="15.2">0</text><text transform="translate(2434.8,708.6) scale(0.875,1)" text-anchor="start" fill="#99a5c1" font-size="15.2">-0.367</text><text transform="translate(2434.8,742.8) scale(0.875,1)" text-anchor="start" fill="#99a5c1" font-size="15.2">-0.734</text><text transform="translate(2434.8,777.0) scale(0.875,1)" text-anchor="start" fill="#99a5c1" font-size="15.2">-1.102</text><text transform="translate(194.9,790.6) scale(0.875,1)" text-anchor="middle" fill="#99a5c1" font-size="15.2">02 Sep 22</text><text transform="translate(389.5,790.6) scale(0.875,1)" text-anchor="middle" fill="#99a5c1" font-size="15.2">10 Sep 22</text><text transform="translate(584.2,790.6) scale(0.875,1)" text-anchor="middle" fill="#99a5c1" font-size="15.2">18 Sep 22</text><text transform="translate(778.8,790.6) scale(0.875,1)" text-anchor="middle" fill="#99a5c1" font-size="15.2">25 Sep 22</text><text transform="translate(973.5,790.6) scale(0.875,1)" text-anchor="middle" fill="#99a5c1" font-size="15.2">03 Oct 22</text><text transform="translate(1168.2,790.6) scale(0.875,1)" text-anchor="middle" fill="#99a5c1" font-size="15.2">11 Oct 22</text><text transform="translate(1362.8,790.6) scale(0.875,1)" text-anchor="middle" fill="#99a5c1" font-size="15.2">19 Oct 22</text><text transform="translate(1557.5,790.6) scale(0.875,1)" text-anchor="middle" fill="#99a5c1" font-size="15.2">26 Oct 22</text><text transform="translate(1752.1,790.6) scale(0.875,1)" text-anchor="middle" fill="#99a5c1" font-size="15.2">03 Nov 22</text><text transform="translate(1946.8,790.6) scale(0.875,1)" text-anchor="middle" fill="#99a5c1" font-size="15.2">11 Nov 22</text><text transform="translate(2141.5,790.6) scale(0.875,1)" text-anchor="middle" fill="#99a5c1" font-size="15.2">19 Nov 22</text><text transform="translate(6.9,790.6) scale(0.875,1)" text-anchor="start" fill="#99a5c1" font-size="15.2">25 Aug 22</text><text transform="translate(2323.3,790.6) scale(0.875,1)" text-anchor="start" fill="#99a5c1" font-size="15.2">26 Nov 22</text></g>
<g font-family="Liberation Sans, sans-serif"><rect x="2364" y="634.5" width="49" height="17.5" fill="#26c953"/><text transform="translate(2368.7,647.5) scale(0.875,1)" text-anchor="start" fill="#fff" font-size="15.2">10.121</text><rect x="2430.5" y="701.8" width="46" height="17.5" fill="#ee1c25"/><text transform="translate(2434.7,714.8) scale(0.875,1)" text-anchor="start" fill="#fff" font-size="15.2">-0.428</text><rect x="2497.3" y="414" width="42" height="17.5" fill="#8358ff"/><text transform="translate(2501.6,427.0) scale(0.875,1)" text-anchor="start" fill="#fff" font-size="15.2">38.73</text></g>
<rect x="771.0" y="828" width="12" height="12" fill="#26c953"/>
<text x="789.3" y="840.3" font-family="Liberation Sans, sans-serif" font-size="18.6" fill="#2f354d" textLength="114.3" lengthAdjust="spacing">Price (ATOM)</text>
<rect x="929.5" y="828" width="12" height="12" fill="#ee1c25"/>
<text x="948.2" y="840.3" font-family="Liberation Sans, sans-serif" font-size="18.6" fill="#2f354d" textLength="302.2" lengthAdjust="spacing">Weighted sentiment (Total) (ATOM)</text>
<rect x="1276.0" y="828" width="12" height="12" fill="#8358ff"/>
<text x="1294.3" y="840.3" font-family="Liberation Sans, sans-serif" font-size="18.6" fill="#2f354d" textLength="257.0" lengthAdjust="spacing">Development Activity (ATOM)</text>
<rect x="1577.0" y="828" width="12" height="12" fill="#afe1ed"/>
<text x="1595.3" y="840.3" font-family="Liberation Sans, sans-serif" font-size="18.6" fill="#2f354d" textLength="195.0" lengthAdjust="spacing">Social Volume (ATOM)</text>
</svg></body></html>
